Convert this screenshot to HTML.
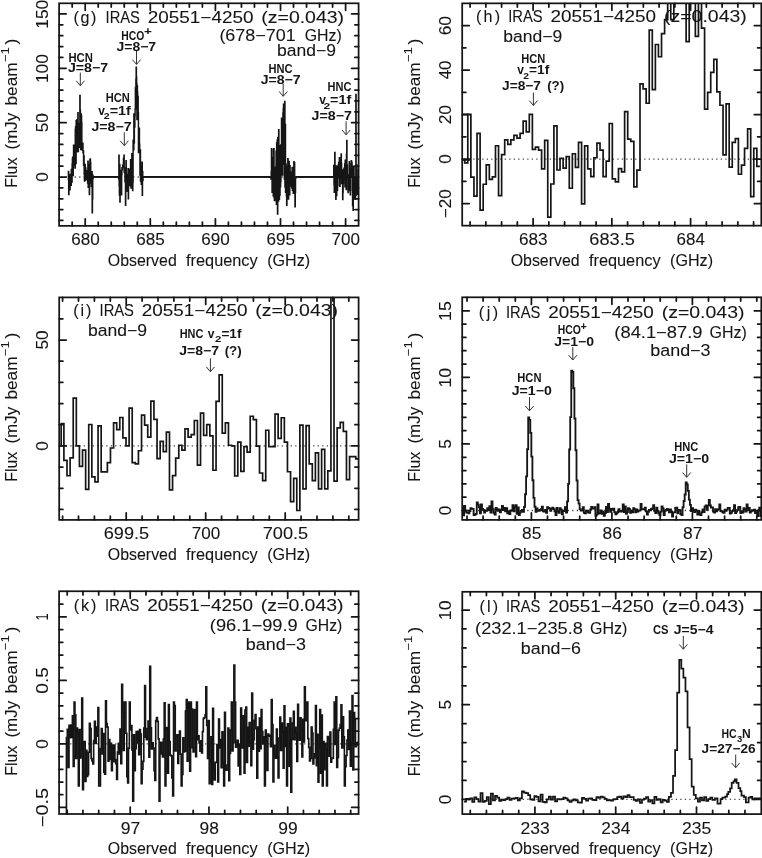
<!DOCTYPE html>
<html><head><meta charset="utf-8"><style>
html,body{margin:0;padding:0;background:#fff;}
svg{display:block;will-change:transform;}
text{font-family:"Liberation Sans",sans-serif;}
</style></head><body>
<svg width="762" height="858" viewBox="0 0 762 858">
<rect width="762" height="858" fill="#fff"/>
<clipPath id="cg"><rect x="59.1" y="3.3" width="299.5" height="222.55"/></clipPath>
<g clip-path="url(#cg)">
<line x1="61.1" y1="177" x2="358.6" y2="177" stroke="#4a4a4a" stroke-width="1.3" stroke-dasharray="1.3 3.2"/>
<path d="M93 176.85H119M143 176.85H271M295.8 176.85H333.8M357.5 176.85H360" stroke="#151515" stroke-width="1.9" fill="none"/>
<path d="M68.1 180.13 68.39 180.13 68.39 171.46 68.67 171.46 68.67 194.4 68.96 194.4 68.96 187.78 69.25 187.78 69.25 184.75 69.53 184.75 69.53 174.4 69.82 174.4 69.82 189.77 70.11 189.77 70.11 178.19 70.39 178.19 70.39 178.93 70.68 178.93 70.68 183.13 70.96 183.13 70.96 185.27 71.25 185.27 71.25 169.5 71.54 169.5 71.54 171.33 71.82 171.33 71.82 182.04 72.11 182.04 72.11 163.94 72.4 163.94 72.4 158.52 72.68 158.52 72.68 157.27 72.97 157.27 72.97 175.44 73.26 175.44 73.26 165.28 73.54 165.28 73.54 145.26 73.83 145.26 73.83 162.57 74.12 162.57 74.12 148.15 74.4 148.15 74.4 153.19 74.69 153.19 74.69 160.58 74.97 160.58 74.97 167.97 75.26 167.97 75.26 129.38 75.55 129.38 75.55 126.76 75.83 126.76 75.83 163.6 76.12 163.6 76.12 120.66 76.41 120.66 76.41 122.09 76.69 122.09 76.69 119.9 76.98 119.9 76.98 151.88 77.27 151.88 77.27 143.06 77.55 143.06 77.55 128.75 77.84 128.75 77.84 112.61 78.13 112.61 78.13 151.46 78.41 151.46 78.41 147.58 78.7 147.58 78.7 123.42 78.98 123.42 78.98 129.35 79.27 129.35 79.27 147.29 79.56 147.29 79.56 144.5 79.84 144.5 79.84 95.45 80.13 95.45 80.13 110.17 80.42 110.17 80.42 134.86 80.7 134.86 80.7 149.51 80.99 149.51 80.99 113.99 81.28 113.99 81.28 115.4 81.56 115.4 81.56 122.41 81.85 122.41 81.85 149.35 82.14 149.35 82.14 143.06 82.42 143.06 82.42 150.25 82.71 150.25 82.71 143.38 82.99 143.38 82.99 152.68 83.28 152.68 83.28 150.9 83.57 150.9 83.57 165.2 83.85 165.2 83.85 155.87 84.14 155.87 84.14 174.09 84.43 174.09 84.43 181.05 84.71 181.05 84.71 164.71 85 164.71 85 164.48 85.29 164.48 85.29 180.17 85.57 180.17 85.57 168.04 85.86 168.04 85.86 172.6 86.15 172.6 86.15 179.21 86.43 179.21 86.43 177.89 86.72 177.89 86.72 179.06 87.01 179.06 87.01 175.25 87.29 175.25 87.29 170.84 87.58 170.84 87.58 183.13 87.86 183.13 87.86 161.33 88.15 161.33 88.15 187.33 88.44 187.33 88.44 184.24 88.72 184.24 88.72 185.59 89.01 185.59 89.01 164.14 89.3 164.14 89.3 194.4 89.58 194.4 89.58 168.11 89.87 168.11 89.87 159.84 90.16 159.84 90.16 158.95 90.44 158.95 90.44 162.31 90.73 162.31 90.73 171.98 91.02 171.98 91.02 183.25 91.3 183.25 91.3 186.64 91.59 186.64 91.59 184.14 91.87 184.14 91.87 171.73 92.16 171.73 92.16 212.88 92.45 212.88 92.45 199.05 92.73 199.05 92.73 175.22 93.02 175.22 93.02 178.59 93.1 178.59 93.1 177 118.66 177 118.66 177.33 118.61 177.33 118.61 178.85 118.86 178.85 118.86 155.14 119.12 155.14 119.12 185.81 119.37 185.81 119.37 195.05 119.62 195.05 119.62 164.39 119.88 164.39 119.88 201.9 120.13 201.9 120.13 189.29 120.39 189.29 120.39 179.83 120.64 179.83 120.64 186.89 120.9 186.89 120.9 185.7 121.15 185.7 121.15 170.48 121.4 170.48 121.4 194.83 121.66 194.83 121.66 174.83 121.91 174.83 121.91 167.65 122.17 167.65 122.17 169.82 122.42 169.82 122.42 167.65 122.67 167.65 122.67 165.37 122.93 165.37 122.93 166.78 123.18 166.78 123.18 164.39 123.44 164.39 123.44 158.41 123.69 158.41 123.69 163.73 123.95 163.73 123.95 155.14 124.2 155.14 124.2 172.22 124.45 172.22 124.45 171.13 124.71 171.13 124.71 172.65 124.96 172.65 124.96 181.78 125.22 181.78 125.22 167.87 125.47 167.87 125.47 205.38 125.73 205.38 125.73 189.18 125.98 189.18 125.98 160.8 126.23 160.8 126.23 182.33 126.49 182.33 126.49 176.67 126.74 176.67 126.74 181.46 127 181.46 127 175.8 127.25 175.8 127.25 191.24 127.5 191.24 127.5 174.39 127.76 174.39 127.76 181.02 128.01 181.02 128.01 168.84 128.27 168.84 128.27 198.86 128.52 198.86 128.52 170.58 128.78 170.58 128.78 181.78 129.03 181.78 129.03 185.59 129.28 185.59 129.28 176.35 129.54 176.35 129.54 169.17 129.79 169.17 129.79 172.65 130.05 172.65 130.05 185.59 130.3 185.59 130.3 177.98 130.56 177.98 130.56 159.6 130.81 159.6 130.81 186.68 131.06 186.68 131.06 188.09 131.32 188.09 131.32 181.68 131.57 181.68 131.57 183.2 131.83 183.2 131.83 153.84 132.08 153.84 132.08 167.21 132.33 167.21 132.33 168.3 132.59 168.3 132.59 190.59 132.84 190.59 132.84 182.44 133.1 182.44 133.1 140.25 133.35 140.25 133.35 142.64 133.61 142.64 133.61 149.71 133.86 149.71 133.86 113.93 134.11 113.93 134.11 143.08 134.37 143.08 134.37 121 134.62 121 134.62 126.98 134.88 126.98 134.88 115.67 135.13 115.67 135.13 108.82 135.38 108.82 135.38 87.84 135.64 87.84 135.64 108.82 135.89 108.82 135.89 79.14 136.15 79.14 136.15 67.18 136.4 67.18 136.4 76.97 136.66 76.97 136.66 83.49 136.91 83.49 136.91 119.59 137.16 119.59 137.16 85.66 137.42 85.66 137.42 92.19 137.67 92.19 137.67 116.98 137.93 116.98 137.93 96.54 138.18 96.54 138.18 112.96 138.44 112.96 138.44 152.53 138.69 152.53 138.69 144.38 138.94 144.38 138.94 134.59 139.2 134.59 139.2 128.29 139.45 128.29 139.45 144.16 139.71 144.16 139.71 150.69 139.96 150.69 139.96 174.93 140.21 174.93 140.21 150.03 140.47 150.03 140.47 180.91 140.72 180.91 140.72 168.84 140.98 168.84 140.98 167 141.23 167 141.23 184.39 141.49 184.39 141.49 179.94 141.74 179.94 141.74 171.78 141.99 171.78 141.99 162.21 142.25 162.21 142.25 195.38 142.5 195.38 142.5 171.78 142.76 171.78 142.76 180.59 143.01 180.59 143.01 177 270.9 177 270.9 178.98 271.19 178.98 271.19 171.7 271.47 171.7 271.47 148.73 271.76 148.73 271.76 149.84 272.05 149.84 272.05 192.25 272.33 192.25 272.33 185.57 272.62 185.57 272.62 172.29 272.91 172.29 272.91 163.72 273.19 163.72 273.19 196.11 273.48 196.11 273.48 157.76 273.76 157.76 273.76 148.64 274.05 148.64 274.05 197.23 274.34 197.23 274.34 200.41 274.62 200.41 274.62 197.92 274.91 197.92 274.91 167.12 275.2 167.12 275.2 199.99 275.48 199.99 275.48 179.53 275.77 179.53 275.77 176.8 276.06 176.8 276.06 151.13 276.34 151.13 276.34 204.16 276.63 204.16 276.63 143.08 276.92 143.08 276.92 189.03 277.2 189.03 277.2 140.03 277.49 140.03 277.49 213.97 277.77 213.97 277.77 137.41 278.06 137.41 278.06 191.56 278.35 191.56 278.35 201.12 278.63 201.12 278.63 129.62 278.92 129.62 278.92 160.73 279.21 160.73 279.21 199.28 279.49 199.28 279.49 183.86 279.78 183.86 279.78 195.07 280.07 195.07 280.07 145.64 280.35 145.64 280.35 186.82 280.64 186.82 280.64 181.45 280.93 181.45 280.93 144.62 281.21 144.62 281.21 162.92 281.5 162.92 281.5 118.26 281.78 118.26 281.78 149.03 282.07 149.03 282.07 173.82 282.36 173.82 282.36 174.91 282.64 174.91 282.64 139.06 282.93 139.06 282.93 112.93 283.22 112.93 283.22 108.77 283.5 108.77 283.5 104.15 283.79 104.15 283.79 164.31 284.08 164.31 284.08 105.52 284.36 105.52 284.36 178.96 284.65 178.96 284.65 101.43 284.94 101.43 284.94 187.03 285.22 187.03 285.22 124.57 285.51 124.57 285.51 192.34 285.79 192.34 285.79 163.9 286.08 163.9 286.08 166.31 286.37 166.31 286.37 195.87 286.65 195.87 286.65 205.27 286.94 205.27 286.94 167.81 287.23 167.81 287.23 194.03 287.51 194.03 287.51 190.14 287.8 190.14 287.8 158.65 288.09 158.65 288.09 193.14 288.37 193.14 288.37 199.05 288.66 199.05 288.66 170.85 288.95 170.85 288.95 161.39 289.23 161.39 289.23 188.8 289.52 188.8 289.52 194.71 289.81 194.71 289.81 165.75 290.09 165.75 290.09 171.47 290.38 171.47 290.38 172.35 290.66 172.35 290.66 186.14 290.95 186.14 290.95 174.32 291.24 174.32 291.24 178.61 291.52 178.61 291.52 186.16 291.81 186.16 291.81 187.95 292.1 187.95 292.1 167.59 292.38 167.59 292.38 190.19 292.67 190.19 292.67 190.62 292.96 190.62 292.96 171.41 293.24 171.41 293.24 193.31 293.53 193.31 293.53 178.37 293.82 178.37 293.82 161.63 294.1 161.63 294.1 163.35 294.39 163.35 294.39 162.81 294.67 162.81 294.67 181.6 294.96 181.6 294.96 206.79 295.25 206.79 295.25 192.64 295.53 192.64 295.53 177.53 295.82 177.53 295.82 177.91 295.9 177.91 295.9 177 333.73 177 333.73 165.58 333.99 165.58 333.99 184.39 334.24 184.39 334.24 192.33 334.5 192.33 334.5 183.2 334.75 183.2 334.75 152.43 335.01 152.43 335.01 177 335.26 177 335.26 187.55 335.51 187.55 335.51 179.17 335.77 179.17 335.77 199.29 336.02 199.29 336.02 166.02 336.28 166.02 336.28 192.88 336.53 192.88 336.53 195.48 336.79 195.48 336.79 166.67 337.04 166.67 337.04 190.37 337.29 190.37 337.29 190.37 337.55 190.37 337.55 185.59 337.8 185.59 337.8 178.09 338.06 178.09 338.06 165.15 338.31 165.15 338.31 168.63 338.57 168.63 338.57 162.43 338.82 162.43 338.82 172.87 339.07 172.87 339.07 177 339.33 177 339.33 157.65 339.58 157.65 339.58 185.59 339.84 185.59 339.84 186.24 340.09 186.24 340.09 179.5 340.34 179.5 340.34 161.23 340.6 161.23 340.6 166.34 340.85 166.34 340.85 172.54 341.11 172.54 341.11 154.06 341.36 154.06 341.36 163.41 341.62 163.41 341.62 183.52 341.87 183.52 341.87 174.72 342.12 174.72 342.12 179.94 342.38 179.94 342.38 169.93 342.63 169.93 342.63 199.62 342.89 199.62 342.89 192.22 343.14 192.22 343.14 183.31 343.4 183.31 343.4 176.67 343.65 176.67 343.65 179.17 343.9 179.17 343.9 168.3 344.16 168.3 344.16 172.54 344.41 172.54 344.41 171.24 344.67 171.24 344.67 163.95 344.92 163.95 344.92 186.89 345.18 186.89 345.18 160.15 345.43 160.15 345.43 171.56 345.68 171.56 345.68 166.13 345.94 166.13 345.94 171.89 346.19 171.89 346.19 189.5 346.45 189.5 346.45 154.17 346.7 154.17 346.7 140.57 346.96 140.57 346.96 170.48 347.21 170.48 347.21 165.15 347.46 165.15 347.46 176.67 347.72 176.67 347.72 177 347.97 177 347.97 192.44 348.23 192.44 348.23 175.04 348.48 175.04 348.48 190.05 348.74 190.05 348.74 177.33 348.99 177.33 348.99 180.15 349.24 180.15 349.24 161.78 349.5 161.78 349.5 163.52 349.75 163.52 349.75 177.11 350.01 177.11 350.01 190.92 350.26 190.92 350.26 194.83 350.52 194.83 350.52 168.95 350.77 168.95 350.77 177.33 351.02 177.33 351.02 177.33 351.28 177.33 351.28 160.69 351.53 160.69 351.53 173.09 351.79 173.09 351.79 162.54 352.04 162.54 352.04 175.04 352.3 175.04 352.3 190.27 352.55 190.27 352.55 205.6 352.8 205.6 352.8 193.64 353.06 193.64 353.06 210.16 353.31 210.16 353.31 166.34 353.57 166.34 353.57 199.07 353.82 199.07 353.82 166.56 354.07 166.56 354.07 186.24 354.33 186.24 354.33 194.83 354.58 194.83 354.58 180.59 354.84 180.59 354.84 199.07 355.09 199.07 355.09 178.74 355.35 178.74 355.35 199.07 355.6 199.07 355.6 189.83 355.85 189.83 355.85 94.36 356.11 94.36 356.11 195.05 356.36 195.05 356.36 167.76 356.62 167.76 356.62 164.93 356.87 164.93 356.87 169.5 357.13 169.5 357.13 194.29 357.38 194.29 357.38 182.55 357.63 182.55 357.63 182.55 357.89 182.55 357.89 183.63 358.14 183.63 358.14 177 371.64 177" fill="none" stroke="#151515" stroke-width="1.45" stroke-linejoin="miter" stroke-miterlimit="2"/>
</g>
<path d="M72.18 225.85v-3.7M72.18 3.3v3.7M85.2 225.85v-3.7M85.2 3.3v3.7M98.22 225.85v-3.7M98.22 3.3v3.7M111.24 225.85v-3.7M111.24 3.3v3.7M124.26 225.85v-3.7M124.26 3.3v3.7M137.28 225.85v-3.7M137.28 3.3v3.7M150.3 225.85v-3.7M150.3 3.3v3.7M163.32 225.85v-3.7M163.32 3.3v3.7M176.34 225.85v-3.7M176.34 3.3v3.7M189.36 225.85v-3.7M189.36 3.3v3.7M202.38 225.85v-3.7M202.38 3.3v3.7M215.4 225.85v-3.7M215.4 3.3v3.7M228.42 225.85v-3.7M228.42 3.3v3.7M241.44 225.85v-3.7M241.44 3.3v3.7M254.46 225.85v-3.7M254.46 3.3v3.7M267.48 225.85v-3.7M267.48 3.3v3.7M280.5 225.85v-3.7M280.5 3.3v3.7M293.52 225.85v-3.7M293.52 3.3v3.7M306.54 225.85v-3.7M306.54 3.3v3.7M319.56 225.85v-3.7M319.56 3.3v3.7M332.58 225.85v-3.7M332.58 3.3v3.7M345.6 225.85v-3.7M345.6 3.3v3.7M85.2 225.85v-7M85.2 3.3v7M150.3 225.85v-7M150.3 3.3v7M215.4 225.85v-7M215.4 3.3v7M280.5 225.85v-7M280.5 3.3v7M345.6 225.85v-7M345.6 3.3v7M59.1 220.49h3.7M358.6 220.49h-3.7M59.1 209.62h3.7M358.6 209.62h-3.7M59.1 198.75h3.7M358.6 198.75h-3.7M59.1 187.87h3.7M358.6 187.87h-3.7M59.1 177h3.7M358.6 177h-3.7M59.1 166.13h3.7M358.6 166.13h-3.7M59.1 155.25h3.7M358.6 155.25h-3.7M59.1 144.38h3.7M358.6 144.38h-3.7M59.1 133.51h3.7M358.6 133.51h-3.7M59.1 122.63h3.7M358.6 122.63h-3.7M59.1 111.76h3.7M358.6 111.76h-3.7M59.1 100.89h3.7M358.6 100.89h-3.7M59.1 90.01h3.7M358.6 90.01h-3.7M59.1 79.14h3.7M358.6 79.14h-3.7M59.1 68.27h3.7M358.6 68.27h-3.7M59.1 57.39h3.7M358.6 57.39h-3.7M59.1 46.52h3.7M358.6 46.52h-3.7M59.1 35.65h3.7M358.6 35.65h-3.7M59.1 24.77h3.7M358.6 24.77h-3.7M59.1 13.9h3.7M358.6 13.9h-3.7M59.1 177h7M358.6 177h-7M59.1 122.63h7M358.6 122.63h-7M59.1 68.27h7M358.6 68.27h-7M59.1 13.9h7M358.6 13.9h-7" fill="none" stroke="#151515" stroke-width="1.75" stroke-linecap="round"/>
<rect x="59.1" y="3.3" width="299.5" height="222.55" fill="none" stroke="#151515" stroke-width="1.75"/>
<clipPath id="ch"><rect x="462.2" y="3.35" width="299.1" height="222.3"/></clipPath>
<g clip-path="url(#ch)">
<line x1="464.2" y1="159.1" x2="761.3" y2="159.1" stroke="#4a4a4a" stroke-width="1.3" stroke-dasharray="1.3 3.2"/>
<path d="M461.65 159.77 464.73 159.77 464.73 162.88 467.8 162.88 467.8 114.38 470.88 114.38 470.88 177.12 473.95 177.12 473.95 196.03 477.03 196.03 477.03 133.29 480.1 133.29 480.1 210.05 483.18 210.05 483.18 184.24 486.25 184.24 486.25 164.88 489.33 164.88 489.33 179.35 492.4 179.35 492.4 176.9 495.48 176.9 495.48 145.75 498.55 145.75 498.55 195.59 501.63 195.59 501.63 154.65 504.7 154.65 504.7 139.97 507.78 139.97 507.78 144.41 510.85 144.41 510.85 139.97 513.93 139.97 513.93 135.29 517 135.29 517 138.19 520.08 138.19 520.08 133.29 523.15 133.29 523.15 121.05 526.23 121.05 526.23 131.95 529.3 131.95 529.3 114.38 532.38 114.38 532.38 149.31 535.45 149.31 535.45 147.08 538.53 147.08 538.53 150.2 541.6 150.2 541.6 168.89 544.68 168.89 544.68 140.41 547.75 140.41 547.75 217.17 550.83 217.17 550.83 184.02 553.9 184.02 553.9 125.95 556.98 125.95 556.98 170 560.05 170 560.05 158.43 563.12 158.43 563.12 168.22 566.2 168.22 566.2 156.65 569.28 156.65 569.28 188.25 572.35 188.25 572.35 153.76 575.43 153.76 575.43 167.33 578.5 167.33 578.5 142.41 581.58 142.41 581.58 203.82 584.65 203.82 584.65 145.97 587.73 145.97 587.73 168.89 590.8 168.89 590.8 176.68 593.88 176.68 593.88 157.76 596.95 157.76 596.95 143.08 600.03 143.08 600.03 150.2 603.1 150.2 603.1 176.68 606.18 176.68 606.18 161.1 609.25 161.1 609.25 123.5 612.33 123.5 612.33 178.9 615.4 178.9 615.4 181.79 618.48 181.79 618.48 168.67 621.55 168.67 621.55 171.78 624.62 171.78 624.62 111.71 627.7 111.71 627.7 139.07 630.78 139.07 630.78 141.3 633.85 141.3 633.85 186.91 636.93 186.91 636.93 170.22 640 170.22 640 83.89 643.08 83.89 643.08 88.79 646.15 88.79 646.15 103.25 649.23 103.25 649.23 30.05 652.3 30.05 652.3 89.68 655.38 89.68 655.38 44.51 658.45 44.51 658.45 56.75 661.53 56.75 661.53 33.61 664.6 33.61 664.6 19.59 667.68 19.59 667.68 -23.35 670.75 -23.35 670.75 19.59 673.83 19.59 673.83 -41.15 676.9 -41.15 676.9 -65.63 679.98 -65.63 679.98 -45.6 683.05 -45.6 683.05 -32.25 686.12 -32.25 686.12 41.62 689.2 41.62 689.2 -27.8 692.28 -27.8 692.28 -14.45 695.35 -14.45 695.35 36.28 698.43 36.28 698.43 -5.55 701.5 -5.55 701.5 28.05 704.58 28.05 704.58 109.04 707.65 109.04 707.65 92.35 710.73 92.35 710.73 72.32 713.8 72.32 713.8 59.42 716.88 59.42 716.88 91.9 719.95 91.9 719.95 105.25 723.03 105.25 723.03 154.87 726.1 154.87 726.1 103.92 729.18 103.92 729.18 167.11 732.25 167.11 732.25 142.41 735.33 142.41 735.33 138.63 738.4 138.63 738.4 174.23 741.48 174.23 741.48 165.11 744.55 165.11 744.55 148.42 747.62 148.42 747.62 128.84 750.7 128.84 750.7 196.7 753.78 196.7 753.78 148.42 756.85 148.42 756.85 166.44 759.93 166.44" fill="none" stroke="#151515" stroke-width="1.7" stroke-linejoin="miter" stroke-miterlimit="2"/>
<path d="M462 114.4H467.8M462 159.9H470" fill="none" stroke="#151515" stroke-width="1.7"/>
</g>
<path d="M470.1 225.65v-3.7M470.1 3.35v3.7M485.85 225.65v-3.7M485.85 3.35v3.7M501.6 225.65v-3.7M501.6 3.35v3.7M517.35 225.65v-3.7M517.35 3.35v3.7M533.1 225.65v-3.7M533.1 3.35v3.7M548.85 225.65v-3.7M548.85 3.35v3.7M564.6 225.65v-3.7M564.6 3.35v3.7M580.35 225.65v-3.7M580.35 3.35v3.7M596.1 225.65v-3.7M596.1 3.35v3.7M611.85 225.65v-3.7M611.85 3.35v3.7M627.6 225.65v-3.7M627.6 3.35v3.7M643.35 225.65v-3.7M643.35 3.35v3.7M659.1 225.65v-3.7M659.1 3.35v3.7M674.85 225.65v-3.7M674.85 3.35v3.7M690.6 225.65v-3.7M690.6 3.35v3.7M706.35 225.65v-3.7M706.35 3.35v3.7M722.1 225.65v-3.7M722.1 3.35v3.7M737.85 225.65v-3.7M737.85 3.35v3.7M753.6 225.65v-3.7M753.6 3.35v3.7M533.1 225.65v-7M533.1 3.35v7M611.85 225.65v-7M611.85 3.35v7M690.6 225.65v-7M690.6 3.35v7M462.2 203.6h3.7M761.3 203.6h-3.7M462.2 181.35h3.7M761.3 181.35h-3.7M462.2 159.1h3.7M761.3 159.1h-3.7M462.2 136.85h3.7M761.3 136.85h-3.7M462.2 114.6h3.7M761.3 114.6h-3.7M462.2 92.35h3.7M761.3 92.35h-3.7M462.2 70.1h3.7M761.3 70.1h-3.7M462.2 47.85h3.7M761.3 47.85h-3.7M462.2 25.6h3.7M761.3 25.6h-3.7M462.2 203.6h7M761.3 203.6h-7M462.2 159.1h7M761.3 159.1h-7M462.2 114.6h7M761.3 114.6h-7M462.2 70.1h7M761.3 70.1h-7M462.2 25.6h7M761.3 25.6h-7" fill="none" stroke="#151515" stroke-width="1.75" stroke-linecap="round"/>
<rect x="462.2" y="3.35" width="299.1" height="222.3" fill="none" stroke="#151515" stroke-width="1.75"/>
<clipPath id="ci"><rect x="59.2" y="297.4" width="299.4" height="222.5"/></clipPath>
<g clip-path="url(#ci)">
<line x1="61.2" y1="445.9" x2="358.6" y2="445.9" stroke="#4a4a4a" stroke-width="1.3" stroke-dasharray="1.3 3.2"/>
<path d="M60.8 423.66 63.9 423.66 63.9 460.3 67 460.3 67 475.76 70.11 475.76 70.11 457.97 73.22 457.97 73.22 398.03 76.32 398.03 76.32 445.9 79.42 445.9 79.42 466.44 82.53 466.44 82.53 450.14 85.64 450.14 85.64 489.32 88.74 489.32 88.74 424.51 91.84 424.51 91.84 476.82 94.95 476.82 94.95 481.91 98.06 481.91 98.06 425.78 101.16 425.78 101.16 471.95 104.27 471.95 104.27 471.95 107.37 471.95 107.37 462.63 110.47 462.63 110.47 448.02 113.58 448.02 113.58 422.81 116.69 422.81 116.69 429.59 119.79 429.59 119.79 417.52 122.9 417.52 122.9 437.85 126 437.85 126 445.9 129.11 445.9 129.11 408.2 132.21 408.2 132.21 462.63 135.31 462.63 135.31 463.9 138.42 463.9 138.42 450.77 141.53 450.77 141.53 415.19 144.63 415.19 144.63 425.14 147.74 425.14 147.74 437.22 150.84 437.22 150.84 401.21 153.94 401.21 153.94 419.42 157.05 419.42 157.05 458.61 160.16 458.61 160.16 441.45 163.26 441.45 163.26 451.62 166.37 451.62 166.37 432.13 169.47 432.13 169.47 489.95 172.57 489.95 172.57 475.55 175.68 475.55 175.68 458.18 178.78 458.18 178.78 445.26 181.89 445.26 181.89 450.14 185 450.14 185 428.96 188.1 428.96 188.1 437.22 191.2 437.22 191.2 434.67 194.31 434.67 194.31 420.48 197.42 420.48 197.42 465.17 200.52 465.17 200.52 413.07 203.62 413.07 203.62 435.31 206.73 435.31 206.73 424.72 209.83 424.72 209.83 435.95 212.94 435.95 212.94 470.26 216.05 470.26 216.05 401.42 219.15 401.42 219.15 374.95 222.25 374.95 222.25 433.19 225.36 433.19 225.36 422.81 228.46 422.81 228.46 445.26 231.57 445.26 231.57 445.9 234.68 445.9 234.68 475.98 237.78 475.98 237.78 442.09 240.88 442.09 240.88 471.32 243.99 471.32 243.99 446.54 247.1 446.54 247.1 452.04 250.2 452.04 250.2 416.25 253.31 416.25 253.31 419.64 256.41 419.64 256.41 446.11 259.51 446.11 259.51 473.01 262.62 473.01 262.62 480.64 265.73 480.64 265.73 430.23 268.83 430.23 268.83 446.54 271.94 446.54 271.94 446.54 275.04 446.54 275.04 414.13 278.14 414.13 278.14 438.28 281.25 438.28 281.25 417.73 284.36 417.73 284.36 442.09 287.46 442.09 287.46 471.74 290.56 471.74 290.56 501.6 293.67 501.6 293.67 478.31 296.77 478.31 296.77 510.5 299.88 510.5 299.88 425.14 302.99 425.14 302.99 488.9 306.09 488.9 306.09 425.57 309.19 425.57 309.19 463.9 312.3 463.9 312.3 480.64 315.4 480.64 315.4 452.89 318.51 452.89 318.51 488.9 321.62 488.9 321.62 449.29 324.72 449.29 324.72 488.9 327.82 488.9 327.82 470.89 330.93 470.89 330.93 284.93 334.04 284.93 334.04 481.06 337.14 481.06 337.14 427.9 340.25 427.9 340.25 422.39 343.35 422.39 343.35 431.29 346.46 431.29 346.46 479.58 349.56 479.58 349.56 456.7 352.67 456.7 352.67 456.7 355.77 456.7 355.77 458.82 358.88 458.82" fill="none" stroke="#151515" stroke-width="1.7" stroke-linejoin="miter" stroke-miterlimit="2"/>
<path d="M59 445.7H61.2V423.6" fill="none" stroke="#151515" stroke-width="1.7"/>
</g>
<path d="M62.6 519.9v-3.7M62.6 297.4v3.7M78.5 519.9v-3.7M78.5 297.4v3.7M94.4 519.9v-3.7M94.4 297.4v3.7M110.3 519.9v-3.7M110.3 297.4v3.7M126.2 519.9v-3.7M126.2 297.4v3.7M142.1 519.9v-3.7M142.1 297.4v3.7M158 519.9v-3.7M158 297.4v3.7M173.9 519.9v-3.7M173.9 297.4v3.7M189.8 519.9v-3.7M189.8 297.4v3.7M205.7 519.9v-3.7M205.7 297.4v3.7M221.6 519.9v-3.7M221.6 297.4v3.7M237.5 519.9v-3.7M237.5 297.4v3.7M253.4 519.9v-3.7M253.4 297.4v3.7M269.3 519.9v-3.7M269.3 297.4v3.7M285.2 519.9v-3.7M285.2 297.4v3.7M301.1 519.9v-3.7M301.1 297.4v3.7M317 519.9v-3.7M317 297.4v3.7M332.9 519.9v-3.7M332.9 297.4v3.7M348.8 519.9v-3.7M348.8 297.4v3.7M126.2 519.9v-7M126.2 297.4v7M205.7 519.9v-7M205.7 297.4v7M285.2 519.9v-7M285.2 297.4v7M59.2 509.44h3.7M358.6 509.44h-3.7M59.2 488.26h3.7M358.6 488.26h-3.7M59.2 467.08h3.7M358.6 467.08h-3.7M59.2 445.9h3.7M358.6 445.9h-3.7M59.2 424.72h3.7M358.6 424.72h-3.7M59.2 403.54h3.7M358.6 403.54h-3.7M59.2 382.36h3.7M358.6 382.36h-3.7M59.2 361.18h3.7M358.6 361.18h-3.7M59.2 340h3.7M358.6 340h-3.7M59.2 318.82h3.7M358.6 318.82h-3.7M59.2 445.9h7M358.6 445.9h-7M59.2 340h7M358.6 340h-7" fill="none" stroke="#151515" stroke-width="1.75" stroke-linecap="round"/>
<rect x="59.2" y="297.4" width="299.4" height="222.5" fill="none" stroke="#151515" stroke-width="1.75"/>
<clipPath id="cj"><rect x="462.2" y="297.3" width="299.1" height="222.6"/></clipPath>
<g clip-path="url(#cj)">
<line x1="464.2" y1="510.5" x2="761.3" y2="510.5" stroke="#4a4a4a" stroke-width="1.3" stroke-dasharray="1.3 3.2"/>
<path d="M461 509.54 462.05 509.54 462.05 506.48 463.1 506.48 463.1 515.26 464.15 515.26 464.15 506.01 465.2 506.01 465.2 510.63 466.25 510.63 466.25 512.63 467.3 512.63 467.3 512.64 468.35 512.64 468.35 513.38 469.4 513.38 469.4 511.1 470.45 511.1 470.45 508.28 471.5 508.28 471.5 508.94 472.55 508.94 472.55 508.8 473.6 508.8 473.6 515.01 474.65 515.01 474.65 514.68 475.7 514.68 475.7 513.83 476.75 513.83 476.75 502.51 477.8 502.51 477.8 504.69 478.85 504.69 478.85 507.28 479.9 507.28 479.9 513.23 480.95 513.23 480.95 504.51 482 504.51 482 508.83 483.05 508.83 483.05 509.93 484.1 509.93 484.1 512.68 485.15 512.68 485.15 510.49 486.2 510.49 486.2 510.89 487.25 510.89 487.25 508.12 488.3 508.12 488.3 510.17 489.35 510.17 489.35 506.28 490.4 506.28 490.4 512.56 491.45 512.56 491.45 501.45 492.5 501.45 492.5 509.17 493.55 509.17 493.55 512.8 494.6 512.8 494.6 514.49 495.65 514.49 495.65 507.8 496.7 507.8 496.7 509.12 497.75 509.12 497.75 510.93 498.8 510.93 498.8 509.45 499.85 509.45 499.85 512.3 500.9 512.3 500.9 509.87 501.95 509.87 501.95 505.84 503 505.84 503 510 504.05 510 504.05 507.87 505.1 507.87 505.1 511.4 506.15 511.4 506.15 508.24 507.2 508.24 507.2 513.25 508.25 513.25 508.25 511.27 509.3 511.27 509.3 514.13 510.35 514.13 510.35 510.77 511.4 510.77 511.4 510.29 512.45 510.29 512.45 505.17 513.5 505.17 513.5 511.21 514.55 511.21 514.55 506.93 515.6 506.93 515.6 505.17 516.65 505.17 516.65 513.74 517.7 513.74 517.7 507.37 518.75 507.37 518.75 515.09 519.8 515.09 519.8 512.45 520.85 512.45 520.85 510.91 521.9 510.91 521.9 509.89 522.95 509.89 522.95 511.79 524 511.79 524 506.87 525.05 506.87 525.05 494.28 526.1 494.28 526.1 476.36 527.15 476.36 527.15 449.24 528.2 449.24 528.2 417.31 529.25 417.31 529.25 419.97 530.3 419.97 530.3 432.84 531.35 432.84 531.35 456.55 532.4 456.55 532.4 480.24 533.45 480.24 533.45 497.87 534.5 497.87 534.5 506.73 535.55 506.73 535.55 511.72 536.6 511.72 536.6 508.4 537.65 508.4 537.65 510.65 538.7 510.65 538.7 510.85 539.75 510.85 539.75 509.96 540.8 509.96 540.8 509.09 541.85 509.09 541.85 506.72 542.9 506.72 542.9 511.23 543.95 511.23 543.95 511.57 545 511.57 545 509.97 546.05 509.97 546.05 512.75 547.1 512.75 547.1 507.11 548.15 507.11 548.15 508.03 549.2 508.03 549.2 508.65 550.25 508.65 550.25 510.82 551.3 510.82 551.3 508.53 552.35 508.53 552.35 507.7 553.4 507.7 553.4 509.17 554.45 509.17 554.45 511.25 555.5 511.25 555.5 514.99 556.55 514.99 556.55 507.98 557.6 507.98 557.6 511.44 558.65 511.44 558.65 512.75 559.7 512.75 559.7 508.13 560.75 508.13 560.75 509.6 561.8 509.6 561.8 514.28 562.85 514.28 562.85 510.74 563.9 510.74 563.9 511.08 564.95 511.08 564.95 507.13 566 507.13 566 512.49 567.05 512.49 567.05 501.33 568.1 501.33 568.1 483.8 569.15 483.8 569.15 449.51 570.2 449.51 570.2 417.09 571.25 417.09 571.25 370.71 572.3 370.71 572.3 372.04 573.35 372.04 573.35 388.23 574.4 388.23 574.4 418.5 575.45 418.5 575.45 450.22 576.5 450.22 576.5 480.52 577.55 480.52 577.55 500.05 578.6 500.05 578.6 503.55 579.65 503.55 579.65 509.12 580.7 509.12 580.7 510.67 581.75 510.67 581.75 510.38 582.8 510.38 582.8 507.09 583.85 507.09 583.85 512.9 584.9 512.9 584.9 513.23 585.95 513.23 585.95 510.68 587 510.68 587 510.68 588.05 510.68 588.05 512.67 589.1 512.67 589.1 512.84 590.15 512.84 590.15 509.49 591.2 509.49 591.2 506.94 592.25 506.94 592.25 508.6 593.3 508.6 593.3 508.68 594.35 508.68 594.35 507.18 595.4 507.18 595.4 515.8 596.45 515.8 596.45 514.52 597.5 514.52 597.5 504.51 598.55 504.51 598.55 513.68 599.6 513.68 599.6 513.13 600.65 513.13 600.65 510.31 601.7 510.31 601.7 513.92 602.75 513.92 602.75 511.68 603.8 511.68 603.8 515.94 604.85 515.94 604.85 513.09 605.9 513.09 605.9 506.92 606.95 506.92 606.95 511.95 608 511.95 608 503.84 609.05 503.84 609.05 508.61 610.1 508.61 610.1 511.81 611.15 511.81 611.15 508.96 612.2 508.96 612.2 509.93 613.25 509.93 613.25 508.64 614.3 508.64 614.3 512.19 615.35 512.19 615.35 514.33 616.4 514.33 616.4 513.22 617.45 513.22 617.45 511.98 618.5 511.98 618.5 509.07 619.55 509.07 619.55 511.04 620.6 511.04 620.6 511.56 621.65 511.56 621.65 510.98 622.7 510.98 622.7 504.51 623.75 504.51 623.75 512.03 624.8 512.03 624.8 506.48 625.85 506.48 625.85 513.77 626.9 513.77 626.9 512.08 627.95 512.08 627.95 508.22 629 508.22 629 509.12 630.05 509.12 630.05 512.78 631.1 512.78 631.1 510.79 632.15 510.79 632.15 512.39 633.2 512.39 633.2 508.23 634.25 508.23 634.25 509.06 635.3 509.06 635.3 512.4 636.35 512.4 636.35 509.44 637.4 509.44 637.4 511.48 638.45 511.48 638.45 510.69 639.5 510.69 639.5 510.33 640.55 510.33 640.55 503.84 641.6 503.84 641.6 509.37 642.65 509.37 642.65 509.27 643.7 509.27 643.7 509.37 644.75 509.37 644.75 507.56 645.8 507.56 645.8 511.22 646.85 511.22 646.85 514.45 647.9 514.45 647.9 511.8 648.95 511.8 648.95 509.97 650 509.97 650 510.44 651.05 510.44 651.05 508.96 652.1 508.96 652.1 508.35 653.15 508.35 653.15 505.17 654.2 505.17 654.2 510.79 655.25 510.79 655.25 513.13 656.3 513.13 656.3 507.75 657.35 507.75 657.35 511.2 658.4 511.2 658.4 513.38 659.45 513.38 659.45 515.16 660.5 515.16 660.5 511.6 661.55 511.6 661.55 506.36 662.6 506.36 662.6 508.44 663.65 508.44 663.65 515.01 664.7 515.01 664.7 510.83 665.75 510.83 665.75 509.8 666.8 509.8 666.8 508.83 667.85 508.83 667.85 509.58 668.9 509.58 668.9 512.21 669.95 512.21 669.95 509.4 671 509.4 671 511.98 672.05 511.98 672.05 516.47 673.1 516.47 673.1 512.39 674.15 512.39 674.15 512.33 675.2 512.33 675.2 507.96 676.25 507.96 676.25 507.69 677.3 507.69 677.3 513.28 678.35 513.28 678.35 510.03 679.4 510.03 679.4 510.23 680.45 510.23 680.45 514.12 681.5 514.12 681.5 514.98 682.55 514.98 682.55 507.24 683.6 507.24 683.6 500.97 684.65 500.97 684.65 494.45 685.7 494.45 685.7 482.54 686.75 482.54 686.75 484.37 687.8 484.37 687.8 490.89 688.85 490.89 688.85 499.57 689.9 499.57 689.9 504.85 690.95 504.85 690.95 511.02 692 511.02 692 508.27 693.05 508.27 693.05 510.3 694.1 510.3 694.1 511.96 695.15 511.96 695.15 509.75 696.2 509.75 696.2 510.59 697.25 510.59 697.25 514.54 698.3 514.54 698.3 510.88 699.35 510.88 699.35 514.49 700.4 514.49 700.4 515.13 701.45 515.13 701.45 512.24 702.5 512.24 702.5 509.36 703.55 509.36 703.55 512.13 704.6 512.13 704.6 506.64 705.65 506.64 705.65 505.49 706.7 505.49 706.7 509.79 707.75 509.79 707.75 505.64 708.8 505.64 708.8 499.87 709.85 499.87 709.85 505.41 710.9 505.41 710.9 507.53 711.95 507.53 711.95 507.54 713 507.54 713 511.51 714.05 511.51 714.05 512.64 715.1 512.64 715.1 509.27 716.15 509.27 716.15 511.34 717.2 511.34 717.2 509.75 718.25 509.75 718.25 509.17 719.3 509.17 719.3 504.51 720.35 504.51 720.35 511.02 721.4 511.02 721.4 511.22 722.45 511.22 722.45 512.28 723.5 512.28 723.5 512.73 724.55 512.73 724.55 509.66 725.6 509.66 725.6 510.87 726.65 510.87 726.65 509.62 727.7 509.62 727.7 507.83 728.75 507.83 728.75 507.8 729.8 507.8 729.8 513.46 730.85 513.46 730.85 512.78 731.9 512.78 731.9 511.18 732.95 511.18 732.95 510.17 734 510.17 734 505.17 735.05 505.17 735.05 513.06 736.1 513.06 736.1 511.66 737.15 511.66 737.15 509.84 738.2 509.84 738.2 507.23 739.25 507.23 739.25 506.83 740.3 506.83 740.3 513.18 741.35 513.18 741.35 511.06 742.4 511.06 742.4 512.65 743.45 512.65 743.45 508.24 744.5 508.24 744.5 509.31 745.55 509.31 745.55 511.45 746.6 511.45 746.6 504.51 747.65 504.51 747.65 509.71 748.7 509.71 748.7 507.89 749.75 507.89 749.75 512.54 750.8 512.54 750.8 511.36 751.85 511.36 751.85 510.2 752.9 510.2 752.9 510.45 753.95 510.45 753.95 509.6 755 509.6 755 513.16 756.05 513.16 756.05 512.08 757.1 512.08 757.1 516.09 758.15 516.09 758.15 510.35 759.2 510.35 759.2 507.65 760.25 507.65 760.25 515.98 761.3 515.98 761.3 512.18 762.35 512.18" fill="none" stroke="#151515" stroke-width="1.85" stroke-linejoin="miter" stroke-miterlimit="2"/>
</g>
<path d="M467 519.9v-3.7M467 297.3v3.7M483.1 519.9v-3.7M483.1 297.3v3.7M499.2 519.9v-3.7M499.2 297.3v3.7M515.3 519.9v-3.7M515.3 297.3v3.7M531.4 519.9v-3.7M531.4 297.3v3.7M547.5 519.9v-3.7M547.5 297.3v3.7M563.6 519.9v-3.7M563.6 297.3v3.7M579.7 519.9v-3.7M579.7 297.3v3.7M595.8 519.9v-3.7M595.8 297.3v3.7M611.9 519.9v-3.7M611.9 297.3v3.7M628 519.9v-3.7M628 297.3v3.7M644.1 519.9v-3.7M644.1 297.3v3.7M660.2 519.9v-3.7M660.2 297.3v3.7M676.3 519.9v-3.7M676.3 297.3v3.7M692.4 519.9v-3.7M692.4 297.3v3.7M708.5 519.9v-3.7M708.5 297.3v3.7M724.6 519.9v-3.7M724.6 297.3v3.7M740.7 519.9v-3.7M740.7 297.3v3.7M756.8 519.9v-3.7M756.8 297.3v3.7M531.4 519.9v-7M531.4 297.3v7M611.9 519.9v-7M611.9 297.3v7M692.4 519.9v-7M692.4 297.3v7M462.2 510.5h3.7M761.3 510.5h-3.7M462.2 497.19h3.7M761.3 497.19h-3.7M462.2 483.87h3.7M761.3 483.87h-3.7M462.2 470.56h3.7M761.3 470.56h-3.7M462.2 457.25h3.7M761.3 457.25h-3.7M462.2 443.93h3.7M761.3 443.93h-3.7M462.2 430.62h3.7M761.3 430.62h-3.7M462.2 417.31h3.7M761.3 417.31h-3.7M462.2 403.99h3.7M761.3 403.99h-3.7M462.2 390.68h3.7M761.3 390.68h-3.7M462.2 377.37h3.7M761.3 377.37h-3.7M462.2 364.05h3.7M761.3 364.05h-3.7M462.2 350.74h3.7M761.3 350.74h-3.7M462.2 337.43h3.7M761.3 337.43h-3.7M462.2 324.11h3.7M761.3 324.11h-3.7M462.2 310.8h3.7M761.3 310.8h-3.7M462.2 510.5h7M761.3 510.5h-7M462.2 443.93h7M761.3 443.93h-7M462.2 377.37h7M761.3 377.37h-7M462.2 310.8h7M761.3 310.8h-7" fill="none" stroke="#151515" stroke-width="1.75" stroke-linecap="round"/>
<rect x="462.2" y="297.3" width="299.1" height="222.6" fill="none" stroke="#151515" stroke-width="1.75"/>
<clipPath id="ck"><rect x="59.1" y="591.25" width="299.5" height="222.75"/></clipPath>
<g clip-path="url(#ck)">
<line x1="61.1" y1="743.9" x2="358.6" y2="743.9" stroke="#4a4a4a" stroke-width="1.3" stroke-dasharray="1.3 3.2"/>
<path d="M65.6 896.3 66.45 896.3 66.45 737.53 67.3 737.53 67.3 729.25 68.15 729.25 68.15 767.36 69 767.36 69 725.38 69.85 725.38 69.85 737.75 70.7 737.75 70.7 725.01 71.55 725.01 71.55 737.33 72.4 737.33 72.4 715.86 73.25 715.86 73.25 766.53 74.1 766.53 74.1 701.99 74.95 701.99 74.95 714.89 75.8 714.89 75.8 758.38 76.65 758.38 76.65 727.97 77.5 727.97 77.5 733.17 78.35 733.17 78.35 785.81 79.2 785.81 79.2 729.54 80.05 729.54 80.05 758.03 80.9 758.03 80.9 749.93 81.75 749.93 81.75 698.18 82.6 698.18 82.6 789.62 83.45 789.62 83.45 742.17 84.3 742.17 84.3 741.57 85.15 741.57 85.15 781.52 86 781.52 86 750.38 86.85 750.38 86.85 776.35 87.7 776.35 87.7 774.56 88.55 774.56 88.55 752.27 89.4 752.27 89.4 723.26 90.25 723.26 90.25 728.68 91.1 728.68 91.1 758.49 91.95 758.49 91.95 761.04 92.8 761.04 92.8 763.87 93.65 763.87 93.65 740.46 94.5 740.46 94.5 721.3 95.35 721.3 95.35 743.46 96.2 743.46 96.2 727.18 97.05 727.18 97.05 736.29 97.9 736.29 97.9 707.6 98.75 707.6 98.75 785.81 99.6 785.81 99.6 785.81 100.45 785.81 100.45 748.69 101.3 748.69 101.3 728.54 102.15 728.54 102.15 753.81 103 753.81 103 733.63 103.85 733.63 103.85 772.22 104.7 772.22 104.7 774.29 105.55 774.29 105.55 700.72 106.4 700.72 106.4 723.6 107.25 723.6 107.25 727.1 108.1 727.1 108.1 761.11 108.95 761.11 108.95 739.53 109.8 739.53 109.8 759.53 110.65 759.53 110.65 743.42 111.5 743.42 111.5 770.79 112.35 770.79 112.35 745.02 113.2 745.02 113.2 761.65 114.05 761.65 114.05 744.97 114.9 744.97 114.9 759.63 115.75 759.63 115.75 763.73 116.6 763.73 116.6 779.46 117.45 779.46 117.45 752.05 118.3 752.05 118.3 743.38 119.15 743.38 119.15 754.01 120 754.01 120 729.09 120.85 729.09 120.85 763.58 121.7 763.58 121.7 684.21 122.55 684.21 122.55 711.76 123.4 711.76 123.4 750.39 124.25 750.39 124.25 701.99 125.1 701.99 125.1 701.99 125.95 701.99 125.95 733.21 126.8 733.21 126.8 776.66 127.65 776.66 127.65 782.89 128.5 782.89 128.5 748.14 129.35 748.14 129.35 701.99 130.2 701.99 130.2 730.04 131.05 730.04 131.05 725.61 131.9 725.61 131.9 749.95 132.75 749.95 132.75 801.05 133.6 801.05 133.6 734.93 134.45 734.93 134.45 770.65 135.3 770.65 135.3 748.65 136.15 748.65 136.15 731.57 137 731.57 137 743.03 137.85 743.03 137.85 731.24 138.7 731.24 138.7 754.66 139.55 754.66 139.55 729.47 140.4 729.47 140.4 734.14 141.25 734.14 141.25 783.71 142.1 783.71 142.1 769.05 142.95 769.05 142.95 761.36 143.8 761.36 143.8 728.08 144.65 728.08 144.65 685.48 145.5 685.48 145.5 737.07 146.35 737.07 146.35 739.73 147.2 739.73 147.2 728.54 148.05 728.54 148.05 721.09 148.9 721.09 148.9 757.29 149.75 757.29 149.75 666.43 150.6 666.43 150.6 727.8 151.45 727.8 151.45 748.95 152.3 748.95 152.3 742.72 153.15 742.72 153.15 748.09 154 748.09 154 770.75 154.85 770.75 154.85 780.35 155.7 780.35 155.7 720.63 156.55 720.63 156.55 717.52 157.4 717.52 157.4 721.43 158.25 721.43 158.25 738.88 159.1 738.88 159.1 801.05 159.95 801.05 159.95 754.01 160.8 754.01 160.8 742.26 161.65 742.26 161.65 753.62 162.5 753.62 162.5 757.02 163.35 757.02 163.35 738.95 164.2 738.95 164.2 702.92 165.05 702.92 165.05 785.81 165.9 785.81 165.9 729.39 166.75 729.39 166.75 727.6 167.6 727.6 167.6 773.2 168.45 773.2 168.45 704.53 169.3 704.53 169.3 741.45 170.15 741.45 170.15 755.1 171 755.1 171 755.88 171.85 755.88 171.85 777.83 172.7 777.83 172.7 795.97 173.55 795.97 173.55 701.99 174.4 701.99 174.4 705.62 175.25 705.62 175.25 750.84 176.1 750.84 176.1 737.01 176.95 737.01 176.95 734.8 177.8 734.8 177.8 763.52 178.65 763.52 178.65 750.14 179.5 750.14 179.5 731.03 180.35 731.03 180.35 754.07 181.2 754.07 181.2 785.81 182.05 785.81 182.05 774.5 182.9 774.5 182.9 737.75 183.75 737.75 183.75 752.03 184.6 752.03 184.6 751.1 185.45 751.1 185.45 711.18 186.3 711.18 186.3 699.45 187.15 699.45 187.15 761.21 188 761.21 188 745.47 188.85 745.47 188.85 701.99 189.7 701.99 189.7 771.08 190.55 771.08 190.55 701.99 191.4 701.99 191.4 709.11 192.25 709.11 192.25 747.76 193.1 747.76 193.1 752.01 193.95 752.01 193.95 709.66 194.8 709.66 194.8 738.01 195.65 738.01 195.65 756.71 196.5 756.71 196.5 701.99 197.35 701.99 197.35 739.69 198.2 739.69 198.2 735.89 199.05 735.89 199.05 742.97 199.9 742.97 199.9 751.17 200.75 751.17 200.75 740.9 201.6 740.9 201.6 752.83 202.45 752.83 202.45 731.65 203.3 731.65 203.3 718.43 204.15 718.43 204.15 717.71 205 717.71 205 715.15 205.85 715.15 205.85 686.75 206.7 686.75 206.7 725.54 207.55 725.54 207.55 758.49 208.4 758.49 208.4 720.68 209.25 720.68 209.25 783.7 210.1 783.7 210.1 761.11 210.95 761.11 210.95 736.9 211.8 736.9 211.8 784.5 212.65 784.5 212.65 708.38 213.5 708.38 213.5 768.45 214.35 768.45 214.35 780.04 215.2 780.04 215.2 762.27 216.05 762.27 216.05 762.34 216.9 762.34 216.9 744.53 217.75 744.53 217.75 782 218.6 782 218.6 719.02 219.45 719.02 219.45 747.92 220.3 747.92 220.3 739.66 221.15 739.66 221.15 767.79 222 767.79 222 731.9 222.85 731.9 222.85 762.6 223.7 762.6 223.7 785.81 224.55 785.81 224.55 712.44 225.4 712.44 225.4 769.39 226.25 769.39 226.25 770.19 227.1 770.19 227.1 765.05 227.95 765.05 227.95 728.19 228.8 728.19 228.8 780.66 229.65 780.66 229.65 753.51 230.5 753.51 230.5 729.98 231.35 729.98 231.35 701.99 232.2 701.99 232.2 750.89 233.05 750.89 233.05 742.55 233.9 742.55 233.9 665.16 234.75 665.16 234.75 701.99 235.6 701.99 235.6 747.29 236.45 747.29 236.45 745.41 237.3 745.41 237.3 740.36 238.15 740.36 238.15 766.01 239 766.01 239 744.15 239.85 744.15 239.85 774.33 240.7 774.33 240.7 707.97 241.55 707.97 241.55 747.51 242.4 747.51 242.4 747.88 243.25 747.88 243.25 715.71 244.1 715.71 244.1 773.24 244.95 773.24 244.95 710.09 245.8 710.09 245.8 707.17 246.65 707.17 246.65 762.46 247.5 762.46 247.5 727.23 248.35 727.23 248.35 746.25 249.2 746.25 249.2 722.6 250.05 722.6 250.05 742.89 250.9 742.89 250.9 765.62 251.75 765.62 251.75 693.1 252.6 693.1 252.6 749.17 253.45 749.17 253.45 739.57 254.3 739.57 254.3 720.34 255.15 720.34 255.15 714.58 256 714.58 256 728.72 256.85 728.72 256.85 778.19 257.7 778.19 257.7 727.14 258.55 727.14 258.55 751.15 259.4 751.15 259.4 718.03 260.25 718.03 260.25 748.63 261.1 748.63 261.1 709.49 261.95 709.49 261.95 731.5 262.8 731.5 262.8 743.9 263.65 743.9 263.65 736.82 264.5 736.82 264.5 785.81 265.35 785.81 265.35 730.05 266.2 730.05 266.2 741.13 267.05 741.13 267.05 770.37 267.9 770.37 267.9 734.08 268.75 734.08 268.75 736.2 269.6 736.2 269.6 735.27 270.45 735.27 270.45 746.68 271.3 746.68 271.3 699.45 272.15 699.45 272.15 724.56 273 724.56 273 782 273.85 782 273.85 745.37 274.7 745.37 274.7 754.85 275.55 754.85 275.55 758.26 276.4 758.26 276.4 729.14 277.25 729.14 277.25 757.07 278.1 757.07 278.1 777.98 278.95 777.98 278.95 737.96 279.8 737.96 279.8 717.18 280.65 717.18 280.65 750.5 281.5 750.5 281.5 722.95 282.35 722.95 282.35 732.28 283.2 732.28 283.2 768.23 284.05 768.23 284.05 705.8 284.9 705.8 284.9 746.53 285.75 746.53 285.75 727.44 286.6 727.44 286.6 785.81 287.45 785.81 287.45 723.84 288.3 723.84 288.3 726.01 289.15 726.01 289.15 766.21 290 766.21 290 718.09 290.85 718.09 290.85 792.16 291.7 792.16 291.7 739.45 292.55 739.45 292.55 723 293.4 723 293.4 711.41 294.25 711.41 294.25 739.71 295.1 739.71 295.1 727.29 295.95 727.29 295.95 733.13 296.8 733.13 296.8 761.39 297.65 761.39 297.65 704.21 298.5 704.21 298.5 725.05 299.35 725.05 299.35 740.12 300.2 740.12 300.2 717.74 301.05 717.74 301.05 730.53 301.9 730.53 301.9 756.98 302.75 756.98 302.75 719.37 303.6 719.37 303.6 742.01 304.45 742.01 304.45 686.75 305.3 686.75 305.3 720.43 306.15 720.43 306.15 720.6 307 720.6 307 701.99 307.85 701.99 307.85 738.63 308.7 738.63 308.7 747.44 309.55 747.44 309.55 760.87 310.4 760.87 310.4 758.45 311.25 758.45 311.25 727.18 312.1 727.18 312.1 733.01 312.95 733.01 312.95 764.04 313.8 764.04 313.8 757.96 314.65 757.96 314.65 753.76 315.5 753.76 315.5 705.55 316.35 705.55 316.35 765.55 317.2 765.55 317.2 734.31 318.05 734.31 318.05 782.26 318.9 782.26 318.9 748.51 319.75 748.51 319.75 709.55 320.6 709.55 320.6 773.1 321.45 773.1 321.45 715.18 322.3 715.18 322.3 785.81 323.15 785.81 323.15 741.6 324 741.6 324 769.56 324.85 769.56 324.85 743.44 325.7 743.44 325.7 748.76 326.55 748.76 326.55 785.81 327.4 785.81 327.4 736.45 328.25 736.45 328.25 738.92 329.1 738.92 329.1 756.05 329.95 756.05 329.95 732.16 330.8 732.16 330.8 762.21 331.65 762.21 331.65 758.42 332.5 758.42 332.5 758.07 333.35 758.07 333.35 729.29 334.2 729.29 334.2 701.99 335.05 701.99 335.05 744.52 335.9 744.52 335.9 696.91 336.75 696.91 336.75 767.47 337.6 767.47 337.6 757.36 338.45 757.36 338.45 730.41 339.3 730.41 339.3 728.26 340.15 728.26 340.15 724.57 341 724.57 341 704.9 341.85 704.9 341.85 747.81 342.7 747.81 342.7 716.75 343.55 716.75 343.55 736.9 344.4 736.9 344.4 785.81 345.25 785.81 345.25 766.77 346.1 766.77 346.1 755.5 346.95 755.5 346.95 740.12 347.8 740.12 347.8 730.02 348.65 730.02 348.65 749.41 349.5 749.41 349.5 711.17 350.35 711.17 350.35 766.17 351.2 766.17 351.2 743.38 352.05 743.38 352.05 695.64 352.9 695.64 352.9 769.85 353.75 769.85 353.75 712.51 354.6 712.51 354.6 719.81 355.45 719.81 355.45 746.67 356.3 746.67 356.3 742.67 357.15 742.67 357.15 744.87 358 744.87 358 742.25 358.85 742.25 358.85 712.74 359.7 712.74 359.7 730.35 360.55 730.35" fill="none" stroke="#151515" stroke-width="1.65" stroke-linejoin="miter" stroke-miterlimit="2"/>
</g>
<path d="M67.2 814v-3.7M67.2 591.25v3.7M82.95 814v-3.7M82.95 591.25v3.7M98.7 814v-3.7M98.7 591.25v3.7M114.45 814v-3.7M114.45 591.25v3.7M130.2 814v-3.7M130.2 591.25v3.7M145.95 814v-3.7M145.95 591.25v3.7M161.7 814v-3.7M161.7 591.25v3.7M177.45 814v-3.7M177.45 591.25v3.7M193.2 814v-3.7M193.2 591.25v3.7M208.95 814v-3.7M208.95 591.25v3.7M224.7 814v-3.7M224.7 591.25v3.7M240.45 814v-3.7M240.45 591.25v3.7M256.2 814v-3.7M256.2 591.25v3.7M271.95 814v-3.7M271.95 591.25v3.7M287.7 814v-3.7M287.7 591.25v3.7M303.45 814v-3.7M303.45 591.25v3.7M319.2 814v-3.7M319.2 591.25v3.7M334.95 814v-3.7M334.95 591.25v3.7M350.7 814v-3.7M350.7 591.25v3.7M130.2 814v-7M130.2 591.25v7M208.95 814v-7M208.95 591.25v7M287.7 814v-7M287.7 591.25v7M59.1 807.4h3.7M358.6 807.4h-3.7M59.1 794.7h3.7M358.6 794.7h-3.7M59.1 782h3.7M358.6 782h-3.7M59.1 769.3h3.7M358.6 769.3h-3.7M59.1 756.6h3.7M358.6 756.6h-3.7M59.1 743.9h3.7M358.6 743.9h-3.7M59.1 731.2h3.7M358.6 731.2h-3.7M59.1 718.5h3.7M358.6 718.5h-3.7M59.1 705.8h3.7M358.6 705.8h-3.7M59.1 693.1h3.7M358.6 693.1h-3.7M59.1 680.4h3.7M358.6 680.4h-3.7M59.1 667.7h3.7M358.6 667.7h-3.7M59.1 655h3.7M358.6 655h-3.7M59.1 642.3h3.7M358.6 642.3h-3.7M59.1 629.6h3.7M358.6 629.6h-3.7M59.1 616.9h3.7M358.6 616.9h-3.7M59.1 604.2h3.7M358.6 604.2h-3.7M59.1 807.4h7M358.6 807.4h-7M59.1 743.9h7M358.6 743.9h-7M59.1 680.4h7M358.6 680.4h-7M59.1 616.9h7M358.6 616.9h-7" fill="none" stroke="#151515" stroke-width="1.75" stroke-linecap="round"/>
<rect x="59.1" y="591.25" width="299.5" height="222.75" fill="none" stroke="#151515" stroke-width="1.75"/>
<clipPath id="cl"><rect x="462.3" y="591.8" width="299" height="222.3"/></clipPath>
<g clip-path="url(#cl)">
<line x1="464.3" y1="799.4" x2="761.3" y2="799.4" stroke="#4a4a4a" stroke-width="1.3" stroke-dasharray="1.3 3.2"/>
<path d="M463.97 801.73 466.04 801.73 466.04 798.89 468.11 798.89 468.11 799.41 470.18 799.41 470.18 798.45 472.25 798.45 472.25 801.91 474.32 801.91 474.32 797.3 476.39 797.3 476.39 799.22 478.46 799.22 478.46 801.62 480.53 801.62 480.53 793.15 482.6 793.15 482.6 801.87 484.67 801.87 484.67 800.76 486.74 800.76 486.74 797.15 488.81 797.15 488.81 804.13 490.88 804.13 490.88 793.72 492.95 793.72 492.95 800.44 495.02 800.44 495.02 795.75 497.09 795.75 497.09 797.69 499.16 797.69 499.16 800.92 501.23 800.92 501.23 799.68 503.3 799.68 503.3 800.21 505.37 800.21 505.37 799.11 507.44 799.11 507.44 797.73 509.51 797.73 509.51 799.92 511.58 799.92 511.58 798.7 513.65 798.7 513.65 798.32 515.72 798.32 515.72 797.89 517.79 797.89 517.79 800.35 519.86 800.35 519.86 798.42 521.93 798.42 521.93 791.36 524 791.36 524 792.72 526.07 792.72 526.07 793 528.14 793 528.14 795.03 530.21 795.03 530.21 799.27 532.28 799.27 532.28 799.87 534.35 799.87 534.35 796.19 536.42 796.19 536.42 796.94 538.49 796.94 538.49 801.49 540.56 801.49 540.56 794.66 542.63 794.66 542.63 801.84 544.7 801.84 544.7 802.3 546.77 802.3 546.77 799.39 548.84 799.39 548.84 796.51 550.91 796.51 550.91 799.55 552.98 799.55 552.98 796.62 555.05 796.62 555.05 801.4 557.12 801.4 557.12 799.14 559.19 799.14 559.19 799.25 561.26 799.25 561.26 799.24 563.33 799.24 563.33 797.52 565.4 797.52 565.4 798.31 567.47 798.31 567.47 800.44 569.54 800.44 569.54 801.96 571.61 801.96 571.61 800.45 573.68 800.45 573.68 799.44 575.75 799.44 575.75 800.44 577.82 800.44 577.82 802.29 579.89 802.29 579.89 802.74 581.96 802.74 581.96 797.86 584.03 797.86 584.03 798.91 586.1 798.91 586.1 800.51 588.17 800.51 588.17 798.57 590.24 798.57 590.24 798.46 592.31 798.46 592.31 799.8 594.38 799.8 594.38 800.21 596.45 800.21 596.45 797.22 598.52 797.22 598.52 797.78 600.59 797.78 600.59 796.69 602.66 796.69 602.66 797.48 604.73 797.48 604.73 798.91 606.8 798.91 606.8 800.25 608.87 800.25 608.87 800.05 610.94 800.05 610.94 800.53 613.01 800.53 613.01 799.28 615.08 799.28 615.08 799 617.15 799 617.15 797.17 619.22 797.17 619.22 796.71 621.29 796.71 621.29 798.7 623.36 798.7 623.36 796.33 625.43 796.33 625.43 797.01 627.5 797.01 627.5 795.01 629.57 795.01 629.57 797.12 631.64 797.12 631.64 797.1 633.71 797.1 633.71 799.81 635.78 799.81 635.78 800.75 637.85 800.75 637.85 799.44 639.92 799.44 639.92 802.95 641.99 802.95 641.99 799.59 644.06 799.59 644.06 798.54 646.13 798.54 646.13 797.07 648.2 797.07 648.2 801.63 650.27 801.63 650.27 800.23 652.34 800.23 652.34 803.3 654.41 803.3 654.41 796.9 656.48 796.9 656.48 799.8 658.55 799.8 658.55 799 660.62 799 660.62 802.32 662.69 802.32 662.69 799.92 664.76 799.92 664.76 800.6 666.83 800.6 666.83 801.75 668.9 801.75 668.9 796.75 670.97 796.75 670.97 792.77 673.04 792.77 673.04 775.91 675.11 775.91 675.11 750.16 677.18 750.16 677.18 692.58 679.25 692.58 679.25 659.81 681.32 659.81 681.32 668.71 683.39 668.71 683.39 677.62 685.46 677.62 685.46 691.44 687.53 691.44 687.53 727.43 689.6 727.43 689.6 759.06 691.67 759.06 691.67 786.71 693.74 786.71 693.74 794.85 695.81 794.85 695.81 798.45 697.9 798.45 697.9 801.67 700 801.67 700 797.51 702 797.51 702 800.35 704.1 800.35 704.1 797.13 706.2 797.13 706.2 800.92 708.3 800.92 708.3 799.02 710.3 799.02 710.3 797.51 712.4 797.51 712.4 799.97 715 799.97 715 798.45 717.5 798.45 717.5 803.57 720.6 803.57 720.6 799.02 722.4 799.02 722.4 797.51 725.2 797.51 725.2 796.56 727 796.56 727 794.1 728.3 794.1 728.3 791.82 730.1 791.82 730.1 788.41 731.7 788.41 731.7 782.92 733.5 782.92 733.5 781.41 734.8 781.41 734.8 779.32 736.6 779.32 736.6 782.92 738.5 782.92 738.5 788.23 740.3 788.23 740.3 791.07 741.5 791.07 741.5 795.61 744 795.61 744 797.13 745.9 797.13 745.9 802.43 748.6 802.43 748.6 797.51 750.5 797.51 750.5 796.94 752.3 796.94 752.3 799.4 754.5 799.4 754.5 798.45 763 798.45" fill="none" stroke="#151515" stroke-width="1.75" stroke-linejoin="miter" stroke-miterlimit="2"/>
</g>
<path d="M470.26 814.1v-3.7M470.26 591.8v3.7M486.42 814.1v-3.7M486.42 591.8v3.7M502.58 814.1v-3.7M502.58 591.8v3.7M518.74 814.1v-3.7M518.74 591.8v3.7M534.9 814.1v-3.7M534.9 591.8v3.7M551.06 814.1v-3.7M551.06 591.8v3.7M567.22 814.1v-3.7M567.22 591.8v3.7M583.38 814.1v-3.7M583.38 591.8v3.7M599.54 814.1v-3.7M599.54 591.8v3.7M615.7 814.1v-3.7M615.7 591.8v3.7M631.86 814.1v-3.7M631.86 591.8v3.7M648.02 814.1v-3.7M648.02 591.8v3.7M664.18 814.1v-3.7M664.18 591.8v3.7M680.34 814.1v-3.7M680.34 591.8v3.7M696.5 814.1v-3.7M696.5 591.8v3.7M712.66 814.1v-3.7M712.66 591.8v3.7M728.82 814.1v-3.7M728.82 591.8v3.7M744.98 814.1v-3.7M744.98 591.8v3.7M534.9 814.1v-7M534.9 591.8v7M615.7 814.1v-7M615.7 591.8v7M696.5 814.1v-7M696.5 591.8v7M462.3 799.4h3.7M761.3 799.4h-3.7M462.3 780.46h3.7M761.3 780.46h-3.7M462.3 761.52h3.7M761.3 761.52h-3.7M462.3 742.58h3.7M761.3 742.58h-3.7M462.3 723.64h3.7M761.3 723.64h-3.7M462.3 704.7h3.7M761.3 704.7h-3.7M462.3 685.76h3.7M761.3 685.76h-3.7M462.3 666.82h3.7M761.3 666.82h-3.7M462.3 647.88h3.7M761.3 647.88h-3.7M462.3 628.94h3.7M761.3 628.94h-3.7M462.3 610h3.7M761.3 610h-3.7M462.3 799.4h7M761.3 799.4h-7M462.3 704.7h7M761.3 704.7h-7M462.3 610h7M761.3 610h-7" fill="none" stroke="#151515" stroke-width="1.75" stroke-linecap="round"/>
<rect x="462.3" y="591.8" width="299" height="222.3" fill="none" stroke="#151515" stroke-width="1.75"/>
<text transform="translate(73.5 22.9) scale(1 1)" font-size="16.1" textLength="22.9" lengthAdjust="spacing" stroke="#151515" stroke-width="0.08" fill="#151515">(g)</text>
<text transform="translate(105.54 22.9) scale(1 1)" font-size="16.1" textLength="34.42" lengthAdjust="spacingAndGlyphs" stroke="#151515" stroke-width="0.08" fill="#151515">IRAS</text>
<text transform="translate(147.86 22.9) scale(1 1)" font-size="16.1" textLength="105.57" lengthAdjust="spacingAndGlyphs" stroke="#151515" stroke-width="0.08" fill="#151515">20551&#8722;4250</text>
<text transform="translate(261.29 22.9) scale(1 1)" font-size="16.1" textLength="82.82" lengthAdjust="spacingAndGlyphs" stroke="#151515" stroke-width="0.08" fill="#151515">(z=0.043)</text>
<text transform="translate(475.9 22.4) scale(1 1)" font-size="16.1" textLength="24.1" lengthAdjust="spacing" stroke="#151515" stroke-width="0.08" fill="#151515">(h)</text>
<text transform="translate(508.24 22.4) scale(1 1)" font-size="16.1" textLength="34.42" lengthAdjust="spacingAndGlyphs" stroke="#151515" stroke-width="0.08" fill="#151515">IRAS</text>
<text transform="translate(550.56 22.4) scale(1 1)" font-size="16.1" textLength="105.57" lengthAdjust="spacingAndGlyphs" stroke="#151515" stroke-width="0.08" fill="#151515">20551&#8722;4250</text>
<text transform="translate(663.99 22.4) scale(1 1)" font-size="16.1" textLength="82.82" lengthAdjust="spacingAndGlyphs" stroke="#151515" stroke-width="0.08" fill="#151515">(z=0.043)</text>
<text transform="translate(73.2 315.5) scale(1 1)" font-size="16.1" textLength="18.1" lengthAdjust="spacing" stroke="#151515" stroke-width="0.08" fill="#151515">(i)</text>
<text transform="translate(99.54 315.5) scale(1 1)" font-size="16.1" textLength="34.42" lengthAdjust="spacingAndGlyphs" stroke="#151515" stroke-width="0.08" fill="#151515">IRAS</text>
<text transform="translate(141.86 315.5) scale(1 1)" font-size="16.1" textLength="105.57" lengthAdjust="spacingAndGlyphs" stroke="#151515" stroke-width="0.08" fill="#151515">20551&#8722;4250</text>
<text transform="translate(255.29 315.5) scale(1 1)" font-size="16.1" textLength="82.82" lengthAdjust="spacingAndGlyphs" stroke="#151515" stroke-width="0.08" fill="#151515">(z=0.043)</text>
<text transform="translate(478.7 317.5) scale(1 1)" font-size="16.1" textLength="19.5" lengthAdjust="spacing" stroke="#151515" stroke-width="0.08" fill="#151515">(j)</text>
<text transform="translate(505.94 317.5) scale(1 1)" font-size="16.1" textLength="34.42" lengthAdjust="spacingAndGlyphs" stroke="#151515" stroke-width="0.08" fill="#151515">IRAS</text>
<text transform="translate(548.26 317.5) scale(1 1)" font-size="16.1" textLength="105.57" lengthAdjust="spacingAndGlyphs" stroke="#151515" stroke-width="0.08" fill="#151515">20551&#8722;4250</text>
<text transform="translate(661.69 317.5) scale(1 1)" font-size="16.1" textLength="82.82" lengthAdjust="spacingAndGlyphs" stroke="#151515" stroke-width="0.08" fill="#151515">(z=0.043)</text>
<text transform="translate(73.7 610.8) scale(1 1)" font-size="16.1" textLength="22.7" lengthAdjust="spacing" stroke="#151515" stroke-width="0.08" fill="#151515">(k)</text>
<text transform="translate(105.04 610.8) scale(1 1)" font-size="16.1" textLength="34.42" lengthAdjust="spacingAndGlyphs" stroke="#151515" stroke-width="0.08" fill="#151515">IRAS</text>
<text transform="translate(147.36 610.8) scale(1 1)" font-size="16.1" textLength="105.57" lengthAdjust="spacingAndGlyphs" stroke="#151515" stroke-width="0.08" fill="#151515">20551&#8722;4250</text>
<text transform="translate(260.79 610.8) scale(1 1)" font-size="16.1" textLength="82.82" lengthAdjust="spacingAndGlyphs" stroke="#151515" stroke-width="0.08" fill="#151515">(z=0.043)</text>
<text transform="translate(479.6 612.2) scale(1 1)" font-size="16.1" textLength="18.6" lengthAdjust="spacing" stroke="#151515" stroke-width="0.08" fill="#151515">(l)</text>
<text transform="translate(505.94 612.2) scale(1 1)" font-size="16.1" textLength="34.42" lengthAdjust="spacingAndGlyphs" stroke="#151515" stroke-width="0.08" fill="#151515">IRAS</text>
<text transform="translate(548.26 612.2) scale(1 1)" font-size="16.1" textLength="105.57" lengthAdjust="spacingAndGlyphs" stroke="#151515" stroke-width="0.08" fill="#151515">20551&#8722;4250</text>
<text transform="translate(661.69 612.2) scale(1 1)" font-size="16.1" textLength="82.82" lengthAdjust="spacingAndGlyphs" stroke="#151515" stroke-width="0.08" fill="#151515">(z=0.043)</text>
<text transform="translate(219.39 41.3) scale(1 1)" font-size="16.1" textLength="76.37" lengthAdjust="spacingAndGlyphs" stroke="#151515" stroke-width="0.08" fill="#151515">(678&#8722;701</text>
<text transform="translate(304.71 41.3) scale(1 1)" font-size="16.1" textLength="37.08" lengthAdjust="spacingAndGlyphs" stroke="#151515" stroke-width="0.08" fill="#151515">GHz)</text>
<text transform="translate(277.08 56) scale(1 1)" font-size="16.1" textLength="58.94" lengthAdjust="spacingAndGlyphs" stroke="#151515" stroke-width="0.08" fill="#151515">band&#8722;9</text>
<text transform="translate(503.18 42.3) scale(1 1)" font-size="16.1" textLength="59.04" lengthAdjust="spacingAndGlyphs" stroke="#151515" stroke-width="0.08" fill="#151515">band&#8722;9</text>
<text transform="translate(88.08 336.4) scale(1 1)" font-size="16.1" textLength="59.04" lengthAdjust="spacingAndGlyphs" stroke="#151515" stroke-width="0.08" fill="#151515">band&#8722;9</text>
<text transform="translate(614.36 337.5) scale(1 1)" font-size="16.1" textLength="88.11" lengthAdjust="spacingAndGlyphs" stroke="#151515" stroke-width="0.08" fill="#151515">(84.1&#8722;87.9</text>
<text transform="translate(709.6 337.5) scale(1 1)" font-size="16.1" textLength="37.29" lengthAdjust="spacingAndGlyphs" stroke="#151515" stroke-width="0.08" fill="#151515">GHz)</text>
<text transform="translate(650.25 355.6) scale(1 1)" font-size="16.1" textLength="60.31" lengthAdjust="spacingAndGlyphs" stroke="#151515" stroke-width="0.08" fill="#151515">band&#8722;3</text>
<text transform="translate(209.87 631.4) scale(1 1)" font-size="15.6" textLength="87.9" lengthAdjust="spacingAndGlyphs" stroke="#151515" stroke-width="0.08" fill="#151515">(96.1&#8722;99.9</text>
<text transform="translate(305.51 631.4) scale(1 1)" font-size="15.6" textLength="36.77" lengthAdjust="spacingAndGlyphs" stroke="#151515" stroke-width="0.08" fill="#151515">GHz)</text>
<text transform="translate(245.75 649.6) scale(1 1)" font-size="16.1" textLength="60.31" lengthAdjust="spacingAndGlyphs" stroke="#151515" stroke-width="0.08" fill="#151515">band&#8722;3</text>
<text transform="translate(475.07 633.6) scale(1 1)" font-size="16.1" textLength="107.81" lengthAdjust="spacingAndGlyphs" stroke="#151515" stroke-width="0.08" fill="#151515">(232.1&#8722;235.8</text>
<text transform="translate(590 633.6) scale(1 1)" font-size="16.1" textLength="37.29" lengthAdjust="spacingAndGlyphs" stroke="#151515" stroke-width="0.08" fill="#151515">GHz)</text>
<text transform="translate(520.86 653.8) scale(1 1)" font-size="16.1" textLength="60" lengthAdjust="spacingAndGlyphs" stroke="#151515" stroke-width="0.08" fill="#151515">band&#8722;6</text>
<text transform="translate(68.45 61.5) scale(1 1)" font-size="12.4" textLength="24.51" lengthAdjust="spacingAndGlyphs" font-weight="bold" fill="#151515">HCN</text>
<text transform="translate(67.89 72.2) scale(1 1)" font-size="12.4" textLength="40.23" lengthAdjust="spacingAndGlyphs" font-weight="bold" fill="#151515">J=8&#8722;7</text>
<path d="M80.3 72.6V85.6M76.2 80.8L80.3 85.6L84.4 80.8" fill="none" stroke="#333" stroke-width="1"/>
<text transform="translate(121.22 40.1) scale(1 1)" font-size="12.4" textLength="23.02" lengthAdjust="spacingAndGlyphs" font-weight="bold" fill="#151515">HCO</text>
<text transform="translate(144.03 35.4) scale(1 1)" font-size="10.5" textLength="7.91" lengthAdjust="spacingAndGlyphs" font-weight="bold" fill="#151515">+</text>
<text transform="translate(116.49 50.6) scale(1 1)" font-size="12.4" textLength="39.62" lengthAdjust="spacingAndGlyphs" font-weight="bold" fill="#151515">J=8&#8722;7</text>
<path d="M136.5 50.9V64.4M132.4 59.6L136.5 64.4L140.6 59.6" fill="none" stroke="#333" stroke-width="1"/>
<text transform="translate(105.77 101.9) scale(1 1)" font-size="12.4" textLength="24.08" lengthAdjust="spacingAndGlyphs" font-weight="bold" fill="#151515">HCN</text>
<text transform="translate(98.26 114.9) scale(1 1)" font-size="12.4" textLength="6.69" lengthAdjust="spacingAndGlyphs" font-weight="bold" fill="#151515">v</text>
<text transform="translate(103.84 119.4) scale(1 1)" font-size="9.4" textLength="5.87" lengthAdjust="spacingAndGlyphs" font-weight="bold" fill="#151515">2</text>
<text transform="translate(109.71 114.9) scale(1 1)" font-size="12.4" textLength="21.16" lengthAdjust="spacingAndGlyphs" font-weight="bold" fill="#151515">=1f</text>
<text transform="translate(91.39 130.5) scale(1 1)" font-size="12.4" textLength="40.13" lengthAdjust="spacingAndGlyphs" font-weight="bold" fill="#151515">J=8&#8722;7</text>
<path d="M124.3 132.2V145.6M120.2 140.8L124.3 145.6L128.4 140.8" fill="none" stroke="#333" stroke-width="1"/>
<text transform="translate(268.47 72.5) scale(1 1)" font-size="12.4" textLength="24.04" lengthAdjust="spacingAndGlyphs" font-weight="bold" fill="#151515">HNC</text>
<text transform="translate(260.69 83.5) scale(1 1)" font-size="12.4" textLength="39.92" lengthAdjust="spacingAndGlyphs" font-weight="bold" fill="#151515">J=8&#8722;7</text>
<path d="M283.2 83.8V96.3M279.1 91.5L283.2 96.3L287.3 91.5" fill="none" stroke="#333" stroke-width="1"/>
<text transform="translate(327.57 91.3) scale(1 1)" font-size="12.4" textLength="23.93" lengthAdjust="spacingAndGlyphs" font-weight="bold" fill="#151515">HNC</text>
<text transform="translate(319.16 103.8) scale(1 1)" font-size="12.4" textLength="6.69" lengthAdjust="spacingAndGlyphs" font-weight="bold" fill="#151515">v</text>
<text transform="translate(323.49 108.5) scale(1 1)" font-size="9.4" textLength="6.68" lengthAdjust="spacingAndGlyphs" font-weight="bold" fill="#151515">2</text>
<text transform="translate(330.11 103.8) scale(1 1)" font-size="12.4" textLength="21.06" lengthAdjust="spacingAndGlyphs" font-weight="bold" fill="#151515">=1f</text>
<text transform="translate(311.59 119.6) scale(1 1)" font-size="12.4" textLength="40.23" lengthAdjust="spacingAndGlyphs" font-weight="bold" fill="#151515">J=8&#8722;7</text>
<path d="M346.1 121.3V134.8M342 130L346.1 134.8L350.2 130" fill="none" stroke="#333" stroke-width="1"/>
<text transform="translate(521.27 63.1) scale(1 1)" font-size="12.4" textLength="24.08" lengthAdjust="spacingAndGlyphs" font-weight="bold" fill="#151515">HCN</text>
<text transform="translate(517.26 74.4) scale(1 1)" font-size="12.4" textLength="6.69" lengthAdjust="spacingAndGlyphs" font-weight="bold" fill="#151515">v</text>
<text transform="translate(523.25 78.6) scale(1 1)" font-size="9.4" textLength="5.76" lengthAdjust="spacingAndGlyphs" font-weight="bold" fill="#151515">2</text>
<text transform="translate(529.04 74.4) scale(1 1)" font-size="12.4" textLength="20.24" lengthAdjust="spacingAndGlyphs" font-weight="bold" fill="#151515">=1f</text>
<text transform="translate(502.09 89.6) scale(1 1)" font-size="12.4" textLength="38.9" lengthAdjust="spacingAndGlyphs" font-weight="bold" fill="#151515">J=8&#8722;7</text>
<text transform="translate(547.15 89.6) scale(1 1)" font-size="12.4" textLength="17" lengthAdjust="spacingAndGlyphs" font-weight="bold" fill="#151515">(?)</text>
<path d="M533.4 92.5V105.4M529.3 100.6L533.4 105.4L537.5 100.6" fill="none" stroke="#333" stroke-width="1"/>
<text transform="translate(179.68 338) scale(1 1)" font-size="12.4" textLength="23.72" lengthAdjust="spacingAndGlyphs" font-weight="bold" fill="#151515">HNC</text>
<text transform="translate(207.76 338) scale(1 1)" font-size="12.4" textLength="6.69" lengthAdjust="spacingAndGlyphs" font-weight="bold" fill="#151515">v</text>
<text transform="translate(215.11 342.4) scale(1 1)" font-size="9.4" textLength="6.33" lengthAdjust="spacingAndGlyphs" font-weight="bold" fill="#151515">2</text>
<text transform="translate(221.44 338) scale(1 1)" font-size="12.4" textLength="20.03" lengthAdjust="spacingAndGlyphs" font-weight="bold" fill="#151515">=1f</text>
<text transform="translate(179.19 354.8) scale(1 1)" font-size="12.4" textLength="39.82" lengthAdjust="spacingAndGlyphs" font-weight="bold" fill="#151515">J=8&#8722;7</text>
<text transform="translate(224.64 354.8) scale(1 1)" font-size="12.4" textLength="17.11" lengthAdjust="spacingAndGlyphs" font-weight="bold" fill="#151515">(?)</text>
<path d="M210.4 358.4V371.7M206.3 366.9L210.4 371.7L214.5 366.9" fill="none" stroke="#333" stroke-width="1"/>
<text transform="translate(517.26 381.7) scale(1 1)" font-size="12.4" textLength="24.19" lengthAdjust="spacingAndGlyphs" font-weight="bold" fill="#151515">HCN</text>
<text transform="translate(511.69 395) scale(1 1)" font-size="12.4" textLength="40.08" lengthAdjust="spacingAndGlyphs" font-weight="bold" fill="#151515">J=1&#8722;0</text>
<path d="M529.5 397.1V410.8M525.4 406L529.5 410.8L533.6 406" fill="none" stroke="#333" stroke-width="1"/>
<text transform="translate(557.81 333.8) scale(1 1)" font-size="12.4" textLength="23.13" lengthAdjust="spacingAndGlyphs" font-weight="bold" fill="#151515">HCO</text>
<text transform="translate(580.55 330.2) scale(1 1)" font-size="10.5" textLength="6.28" lengthAdjust="spacingAndGlyphs" font-weight="bold" fill="#151515">+</text>
<text transform="translate(554.29 345.8) scale(1 1)" font-size="12.4" textLength="39.78" lengthAdjust="spacingAndGlyphs" font-weight="bold" fill="#151515">J=1&#8722;0</text>
<path d="M572.8 347.2V360M568.7 355.2L572.8 360L576.9 355.2" fill="none" stroke="#333" stroke-width="1"/>
<text transform="translate(674.16 450.7) scale(1 1)" font-size="12.4" textLength="24.14" lengthAdjust="spacingAndGlyphs" font-weight="bold" fill="#151515">HNC</text>
<text transform="translate(668.89 462.9) scale(1 1)" font-size="12.4" textLength="40.19" lengthAdjust="spacingAndGlyphs" font-weight="bold" fill="#151515">J=1&#8722;0</text>
<path d="M686.7 464.4V477.3M682.6 472.5L686.7 477.3L690.8 472.5" fill="none" stroke="#333" stroke-width="1"/>
<text transform="translate(652.94 633.9) scale(1 1)" font-size="13.2" textLength="15.6" lengthAdjust="spacingAndGlyphs" font-weight="bold" fill="#151515">CS</text>
<text transform="translate(673.79 634) scale(1 1)" font-size="12.4" textLength="39.79" lengthAdjust="spacingAndGlyphs" font-weight="bold" fill="#151515">J=5&#8722;4</text>
<path d="M683.3 635.9V649.2M679.2 644.4L683.3 649.2L687.4 644.4" fill="none" stroke="#333" stroke-width="1"/>
<text transform="translate(721.41 737.5) scale(1 1)" font-size="12.4" textLength="15.18" lengthAdjust="spacingAndGlyphs" font-weight="bold" fill="#151515">HC</text>
<text transform="translate(737.09 741.6) scale(1 1)" font-size="9.4" textLength="5.24" lengthAdjust="spacingAndGlyphs" font-weight="bold" fill="#151515">3</text>
<text transform="translate(742.1 737.5) scale(1 1)" font-size="12.4" textLength="8.71" lengthAdjust="spacingAndGlyphs" font-weight="bold" fill="#151515">N</text>
<text transform="translate(701.59 752.6) scale(1 1)" font-size="12.4" textLength="54.08" lengthAdjust="spacingAndGlyphs" font-weight="bold" fill="#151515">J=27&#8722;26</text>
<path d="M735.7 754.6V767.7M731.6 762.9L735.7 767.7L739.8 762.9" fill="none" stroke="#333" stroke-width="1"/>
<text transform="translate(71.15 245.35) scale(1 1)" font-size="15.6" textLength="28.51" lengthAdjust="spacingAndGlyphs" stroke="#151515" stroke-width="0.08" fill="#151515">680</text>
<text transform="translate(136.24 245.35) scale(1 1)" font-size="15.6" textLength="28.57" lengthAdjust="spacingAndGlyphs" stroke="#151515" stroke-width="0.08" fill="#151515">685</text>
<text transform="translate(201.35 245.35) scale(1 1)" font-size="15.6" textLength="28.51" lengthAdjust="spacingAndGlyphs" stroke="#151515" stroke-width="0.08" fill="#151515">690</text>
<text transform="translate(266.44 245.35) scale(1 1)" font-size="15.6" textLength="28.57" lengthAdjust="spacingAndGlyphs" stroke="#151515" stroke-width="0.08" fill="#151515">695</text>
<text transform="translate(331.53 245.35) scale(1 1)" font-size="15.6" textLength="28.53" lengthAdjust="spacingAndGlyphs" stroke="#151515" stroke-width="0.08" fill="#151515">700</text>
<text transform="translate(48 181.77) rotate(-90) scale(1 1)" font-size="15.6" textLength="9.52" lengthAdjust="spacingAndGlyphs" stroke="#151515" stroke-width="0.08" fill="#151515">0</text>
<text transform="translate(48 132.22) rotate(-90) scale(1 1)" font-size="15.6" textLength="19.15" lengthAdjust="spacingAndGlyphs" stroke="#151515" stroke-width="0.08" fill="#151515">50</text>
<text transform="translate(48 83.09) rotate(-90) scale(1 1)" font-size="15.6" textLength="28.99" lengthAdjust="spacingAndGlyphs" stroke="#151515" stroke-width="0.08" fill="#151515">100</text>
<text transform="translate(48 28.72) rotate(-90) scale(1 1)" font-size="15.6" textLength="28.99" lengthAdjust="spacingAndGlyphs" stroke="#151515" stroke-width="0.08" fill="#151515">150</text>
<text transform="translate(519.04 245.15) scale(1 1)" font-size="15.6" textLength="28.6" lengthAdjust="spacingAndGlyphs" stroke="#151515" stroke-width="0.08" fill="#151515">683</text>
<text transform="translate(589.34 245.15) scale(1 1)" font-size="15.6" textLength="45.46" lengthAdjust="spacingAndGlyphs" stroke="#151515" stroke-width="0.08" fill="#151515">683.5</text>
<text transform="translate(676.55 245.15) scale(1 1)" font-size="15.6" textLength="28.35" lengthAdjust="spacingAndGlyphs" stroke="#151515" stroke-width="0.08" fill="#151515">684</text>
<text transform="translate(451.1 218.19) rotate(-90) scale(1 1)" font-size="15.6" textLength="28.99" lengthAdjust="spacingAndGlyphs" stroke="#151515" stroke-width="0.08" fill="#151515">&#8722;20</text>
<text transform="translate(451.1 163.87) rotate(-90) scale(1 1)" font-size="15.6" textLength="9.52" lengthAdjust="spacingAndGlyphs" stroke="#151515" stroke-width="0.08" fill="#151515">0</text>
<text transform="translate(451.1 124.37) rotate(-90) scale(1 1)" font-size="15.6" textLength="19.34" lengthAdjust="spacingAndGlyphs" stroke="#151515" stroke-width="0.08" fill="#151515">20</text>
<text transform="translate(451.1 79.37) rotate(-90) scale(1 1)" font-size="15.6" textLength="18.82" lengthAdjust="spacingAndGlyphs" stroke="#151515" stroke-width="0.08" fill="#151515">40</text>
<text transform="translate(451.1 35.37) rotate(-90) scale(1 1)" font-size="15.6" textLength="19.34" lengthAdjust="spacingAndGlyphs" stroke="#151515" stroke-width="0.08" fill="#151515">60</text>
<text transform="translate(103.69 539.4) scale(1 1)" font-size="15.6" textLength="45.46" lengthAdjust="spacingAndGlyphs" stroke="#151515" stroke-width="0.08" fill="#151515">699.5</text>
<text transform="translate(191.63 539.4) scale(1 1)" font-size="15.6" textLength="28.53" lengthAdjust="spacingAndGlyphs" stroke="#151515" stroke-width="0.08" fill="#151515">700</text>
<text transform="translate(262.67 539.4) scale(1 1)" font-size="15.6" textLength="45.48" lengthAdjust="spacingAndGlyphs" stroke="#151515" stroke-width="0.08" fill="#151515">700.5</text>
<text transform="translate(48.1 450.67) rotate(-90) scale(1 1)" font-size="15.6" textLength="9.52" lengthAdjust="spacingAndGlyphs" stroke="#151515" stroke-width="0.08" fill="#151515">0</text>
<text transform="translate(48.1 349.59) rotate(-90) scale(1 1)" font-size="15.6" textLength="19.15" lengthAdjust="spacingAndGlyphs" stroke="#151515" stroke-width="0.08" fill="#151515">50</text>
<text transform="translate(522.06 539.4) scale(1 1)" font-size="15.6" textLength="19.26" lengthAdjust="spacingAndGlyphs" stroke="#151515" stroke-width="0.08" fill="#151515">85</text>
<text transform="translate(602.55 539.4) scale(1 1)" font-size="15.6" textLength="19.3" lengthAdjust="spacingAndGlyphs" stroke="#151515" stroke-width="0.08" fill="#151515">86</text>
<text transform="translate(683.05 539.4) scale(1 1)" font-size="15.6" textLength="19.43" lengthAdjust="spacingAndGlyphs" stroke="#151515" stroke-width="0.08" fill="#151515">87</text>
<text transform="translate(451.1 515.27) rotate(-90) scale(1 1)" font-size="15.6" textLength="9.52" lengthAdjust="spacingAndGlyphs" stroke="#151515" stroke-width="0.08" fill="#151515">0</text>
<text transform="translate(451.1 448.72) rotate(-90) scale(1 1)" font-size="15.6" textLength="9.6" lengthAdjust="spacingAndGlyphs" stroke="#151515" stroke-width="0.08" fill="#151515">5</text>
<text transform="translate(451.1 387.62) rotate(-90) scale(1 1)" font-size="15.6" textLength="19.84" lengthAdjust="spacingAndGlyphs" stroke="#151515" stroke-width="0.08" fill="#151515">10</text>
<text transform="translate(451.1 321.06) rotate(-90) scale(1 1)" font-size="15.6" textLength="19.9" lengthAdjust="spacingAndGlyphs" stroke="#151515" stroke-width="0.08" fill="#151515">15</text>
<text transform="translate(120.79 833.5) scale(1 1)" font-size="15.6" textLength="19.49" lengthAdjust="spacingAndGlyphs" stroke="#151515" stroke-width="0.08" fill="#151515">97</text>
<text transform="translate(199.55 833.5) scale(1 1)" font-size="15.6" textLength="19.35" lengthAdjust="spacingAndGlyphs" stroke="#151515" stroke-width="0.08" fill="#151515">98</text>
<text transform="translate(278.3 833.5) scale(1 1)" font-size="15.6" textLength="19.43" lengthAdjust="spacingAndGlyphs" stroke="#151515" stroke-width="0.08" fill="#151515">99</text>
<text transform="translate(48 827.13) rotate(-90) scale(1 1)" font-size="15.6" textLength="39.29" lengthAdjust="spacingAndGlyphs" stroke="#151515" stroke-width="0.08" fill="#151515">&#8722;0.5</text>
<text transform="translate(48 748.67) rotate(-90) scale(1 1)" font-size="15.6" textLength="9.52" lengthAdjust="spacingAndGlyphs" stroke="#151515" stroke-width="0.08" fill="#151515">0</text>
<text transform="translate(48 693.64) rotate(-90) scale(1 1)" font-size="15.6" textLength="26.53" lengthAdjust="spacingAndGlyphs" stroke="#151515" stroke-width="0.08" fill="#151515">0.5</text>
<text transform="translate(48 620.62) rotate(-90) scale(1 1)" font-size="15.6" textLength="7.08" lengthAdjust="spacingAndGlyphs" stroke="#151515" stroke-width="0.08" fill="#151515">1</text>
<text transform="translate(520.52 833.6) scale(1 1)" font-size="15.6" textLength="29.24" lengthAdjust="spacingAndGlyphs" stroke="#151515" stroke-width="0.08" fill="#151515">233</text>
<text transform="translate(601.33 833.6) scale(1 1)" font-size="15.6" textLength="28.98" lengthAdjust="spacingAndGlyphs" stroke="#151515" stroke-width="0.08" fill="#151515">234</text>
<text transform="translate(682.12 833.6) scale(1 1)" font-size="15.6" textLength="29.2" lengthAdjust="spacingAndGlyphs" stroke="#151515" stroke-width="0.08" fill="#151515">235</text>
<text transform="translate(451.2 804.17) rotate(-90) scale(1 1)" font-size="15.6" textLength="9.52" lengthAdjust="spacingAndGlyphs" stroke="#151515" stroke-width="0.08" fill="#151515">0</text>
<text transform="translate(451.2 709.49) rotate(-90) scale(1 1)" font-size="15.6" textLength="9.6" lengthAdjust="spacingAndGlyphs" stroke="#151515" stroke-width="0.08" fill="#151515">5</text>
<text transform="translate(451.2 620.26) rotate(-90) scale(1 1)" font-size="15.6" textLength="19.84" lengthAdjust="spacingAndGlyphs" stroke="#151515" stroke-width="0.08" fill="#151515">10</text>
<text transform="translate(107.8 266.15) scale(1 1)" font-size="15.8" textLength="68.97" lengthAdjust="spacingAndGlyphs" stroke="#151515" stroke-width="0.08" fill="#151515">Observed</text>
<text transform="translate(186.02 266.15) scale(1 1)" font-size="15.8" textLength="71.65" lengthAdjust="spacingAndGlyphs" stroke="#151515" stroke-width="0.08" fill="#151515">frequency</text>
<text transform="translate(267.15 266.15) scale(1 1)" font-size="15.8" textLength="43" lengthAdjust="spacingAndGlyphs" stroke="#151515" stroke-width="0.08" fill="#151515">(GHz)</text>
<text transform="translate(16.8 187.78) rotate(-90) scale(1 1)" font-size="15.8" textLength="30.17" lengthAdjust="spacingAndGlyphs" stroke="#151515" stroke-width="0.08" fill="#151515">Flux</text>
<text transform="translate(16.8 149.53) rotate(-90) scale(1 1)" font-size="15.8" textLength="36.79" lengthAdjust="spacingAndGlyphs" stroke="#151515" stroke-width="0.08" fill="#151515">(mJy</text>
<text transform="translate(16.8 105.48) rotate(-90) scale(1 1)" font-size="15.8" textLength="43.03" lengthAdjust="spacingAndGlyphs" stroke="#151515" stroke-width="0.08" fill="#151515">beam</text>
<text transform="translate(9.1 62.11) rotate(-90) scale(1 1)" font-size="11.4" textLength="14.87" lengthAdjust="spacingAndGlyphs" stroke="#151515" stroke-width="0.08" fill="#151515">&#8722;1</text>
<text transform="translate(16.8 44.46) rotate(-90) scale(1 1)" font-size="15.8" textLength="5.76" lengthAdjust="spacingAndGlyphs" stroke="#151515" stroke-width="0.08" fill="#151515">)</text>
<text transform="translate(510.7 265.95) scale(1 1)" font-size="15.8" textLength="68.97" lengthAdjust="spacingAndGlyphs" stroke="#151515" stroke-width="0.08" fill="#151515">Observed</text>
<text transform="translate(588.92 265.95) scale(1 1)" font-size="15.8" textLength="71.65" lengthAdjust="spacingAndGlyphs" stroke="#151515" stroke-width="0.08" fill="#151515">frequency</text>
<text transform="translate(670.05 265.95) scale(1 1)" font-size="15.8" textLength="43" lengthAdjust="spacingAndGlyphs" stroke="#151515" stroke-width="0.08" fill="#151515">(GHz)</text>
<text transform="translate(419.9 187.71) rotate(-90) scale(1 1)" font-size="15.8" textLength="30.17" lengthAdjust="spacingAndGlyphs" stroke="#151515" stroke-width="0.08" fill="#151515">Flux</text>
<text transform="translate(419.9 149.45) rotate(-90) scale(1 1)" font-size="15.8" textLength="36.79" lengthAdjust="spacingAndGlyphs" stroke="#151515" stroke-width="0.08" fill="#151515">(mJy</text>
<text transform="translate(419.9 105.4) rotate(-90) scale(1 1)" font-size="15.8" textLength="43.03" lengthAdjust="spacingAndGlyphs" stroke="#151515" stroke-width="0.08" fill="#151515">beam</text>
<text transform="translate(412.2 62.04) rotate(-90) scale(1 1)" font-size="11.4" textLength="14.87" lengthAdjust="spacingAndGlyphs" stroke="#151515" stroke-width="0.08" fill="#151515">&#8722;1</text>
<text transform="translate(419.9 44.39) rotate(-90) scale(1 1)" font-size="15.8" textLength="5.76" lengthAdjust="spacingAndGlyphs" stroke="#151515" stroke-width="0.08" fill="#151515">)</text>
<text transform="translate(107.85 560.2) scale(1 1)" font-size="15.8" textLength="68.97" lengthAdjust="spacingAndGlyphs" stroke="#151515" stroke-width="0.08" fill="#151515">Observed</text>
<text transform="translate(186.07 560.2) scale(1 1)" font-size="15.8" textLength="71.65" lengthAdjust="spacingAndGlyphs" stroke="#151515" stroke-width="0.08" fill="#151515">frequency</text>
<text transform="translate(267.2 560.2) scale(1 1)" font-size="15.8" textLength="43" lengthAdjust="spacingAndGlyphs" stroke="#151515" stroke-width="0.08" fill="#151515">(GHz)</text>
<text transform="translate(16.9 481.86) rotate(-90) scale(1 1)" font-size="15.8" textLength="30.17" lengthAdjust="spacingAndGlyphs" stroke="#151515" stroke-width="0.08" fill="#151515">Flux</text>
<text transform="translate(16.9 443.6) rotate(-90) scale(1 1)" font-size="15.8" textLength="36.79" lengthAdjust="spacingAndGlyphs" stroke="#151515" stroke-width="0.08" fill="#151515">(mJy</text>
<text transform="translate(16.9 399.55) rotate(-90) scale(1 1)" font-size="15.8" textLength="43.03" lengthAdjust="spacingAndGlyphs" stroke="#151515" stroke-width="0.08" fill="#151515">beam</text>
<text transform="translate(9.2 356.19) rotate(-90) scale(1 1)" font-size="11.4" textLength="14.87" lengthAdjust="spacingAndGlyphs" stroke="#151515" stroke-width="0.08" fill="#151515">&#8722;1</text>
<text transform="translate(16.9 338.54) rotate(-90) scale(1 1)" font-size="15.8" textLength="5.76" lengthAdjust="spacingAndGlyphs" stroke="#151515" stroke-width="0.08" fill="#151515">)</text>
<text transform="translate(510.7 560.2) scale(1 1)" font-size="15.8" textLength="68.97" lengthAdjust="spacingAndGlyphs" stroke="#151515" stroke-width="0.08" fill="#151515">Observed</text>
<text transform="translate(588.92 560.2) scale(1 1)" font-size="15.8" textLength="71.65" lengthAdjust="spacingAndGlyphs" stroke="#151515" stroke-width="0.08" fill="#151515">frequency</text>
<text transform="translate(670.05 560.2) scale(1 1)" font-size="15.8" textLength="43" lengthAdjust="spacingAndGlyphs" stroke="#151515" stroke-width="0.08" fill="#151515">(GHz)</text>
<text transform="translate(419.9 481.81) rotate(-90) scale(1 1)" font-size="15.8" textLength="30.17" lengthAdjust="spacingAndGlyphs" stroke="#151515" stroke-width="0.08" fill="#151515">Flux</text>
<text transform="translate(419.9 443.55) rotate(-90) scale(1 1)" font-size="15.8" textLength="36.79" lengthAdjust="spacingAndGlyphs" stroke="#151515" stroke-width="0.08" fill="#151515">(mJy</text>
<text transform="translate(419.9 399.5) rotate(-90) scale(1 1)" font-size="15.8" textLength="43.03" lengthAdjust="spacingAndGlyphs" stroke="#151515" stroke-width="0.08" fill="#151515">beam</text>
<text transform="translate(412.2 356.14) rotate(-90) scale(1 1)" font-size="11.4" textLength="14.87" lengthAdjust="spacingAndGlyphs" stroke="#151515" stroke-width="0.08" fill="#151515">&#8722;1</text>
<text transform="translate(419.9 338.49) rotate(-90) scale(1 1)" font-size="15.8" textLength="5.76" lengthAdjust="spacingAndGlyphs" stroke="#151515" stroke-width="0.08" fill="#151515">)</text>
<text transform="translate(107.8 854.3) scale(1 1)" font-size="15.8" textLength="68.97" lengthAdjust="spacingAndGlyphs" stroke="#151515" stroke-width="0.08" fill="#151515">Observed</text>
<text transform="translate(186.02 854.3) scale(1 1)" font-size="15.8" textLength="71.65" lengthAdjust="spacingAndGlyphs" stroke="#151515" stroke-width="0.08" fill="#151515">frequency</text>
<text transform="translate(267.15 854.3) scale(1 1)" font-size="15.8" textLength="43" lengthAdjust="spacingAndGlyphs" stroke="#151515" stroke-width="0.08" fill="#151515">(GHz)</text>
<text transform="translate(16.8 775.83) rotate(-90) scale(1 1)" font-size="15.8" textLength="30.17" lengthAdjust="spacingAndGlyphs" stroke="#151515" stroke-width="0.08" fill="#151515">Flux</text>
<text transform="translate(16.8 737.58) rotate(-90) scale(1 1)" font-size="15.8" textLength="36.79" lengthAdjust="spacingAndGlyphs" stroke="#151515" stroke-width="0.08" fill="#151515">(mJy</text>
<text transform="translate(16.8 693.53) rotate(-90) scale(1 1)" font-size="15.8" textLength="43.03" lengthAdjust="spacingAndGlyphs" stroke="#151515" stroke-width="0.08" fill="#151515">beam</text>
<text transform="translate(9.1 650.16) rotate(-90) scale(1 1)" font-size="11.4" textLength="14.87" lengthAdjust="spacingAndGlyphs" stroke="#151515" stroke-width="0.08" fill="#151515">&#8722;1</text>
<text transform="translate(16.8 632.51) rotate(-90) scale(1 1)" font-size="15.8" textLength="5.76" lengthAdjust="spacingAndGlyphs" stroke="#151515" stroke-width="0.08" fill="#151515">)</text>
<text transform="translate(510.75 854.4) scale(1 1)" font-size="15.8" textLength="68.97" lengthAdjust="spacingAndGlyphs" stroke="#151515" stroke-width="0.08" fill="#151515">Observed</text>
<text transform="translate(588.97 854.4) scale(1 1)" font-size="15.8" textLength="71.65" lengthAdjust="spacingAndGlyphs" stroke="#151515" stroke-width="0.08" fill="#151515">frequency</text>
<text transform="translate(670.1 854.4) scale(1 1)" font-size="15.8" textLength="43" lengthAdjust="spacingAndGlyphs" stroke="#151515" stroke-width="0.08" fill="#151515">(GHz)</text>
<text transform="translate(420 776.16) rotate(-90) scale(1 1)" font-size="15.8" textLength="30.17" lengthAdjust="spacingAndGlyphs" stroke="#151515" stroke-width="0.08" fill="#151515">Flux</text>
<text transform="translate(420 737.9) rotate(-90) scale(1 1)" font-size="15.8" textLength="36.79" lengthAdjust="spacingAndGlyphs" stroke="#151515" stroke-width="0.08" fill="#151515">(mJy</text>
<text transform="translate(420 693.85) rotate(-90) scale(1 1)" font-size="15.8" textLength="43.03" lengthAdjust="spacingAndGlyphs" stroke="#151515" stroke-width="0.08" fill="#151515">beam</text>
<text transform="translate(412.3 650.49) rotate(-90) scale(1 1)" font-size="11.4" textLength="14.87" lengthAdjust="spacingAndGlyphs" stroke="#151515" stroke-width="0.08" fill="#151515">&#8722;1</text>
<text transform="translate(420 632.84) rotate(-90) scale(1 1)" font-size="15.8" textLength="5.76" lengthAdjust="spacingAndGlyphs" stroke="#151515" stroke-width="0.08" fill="#151515">)</text>
</svg>
</body></html>
